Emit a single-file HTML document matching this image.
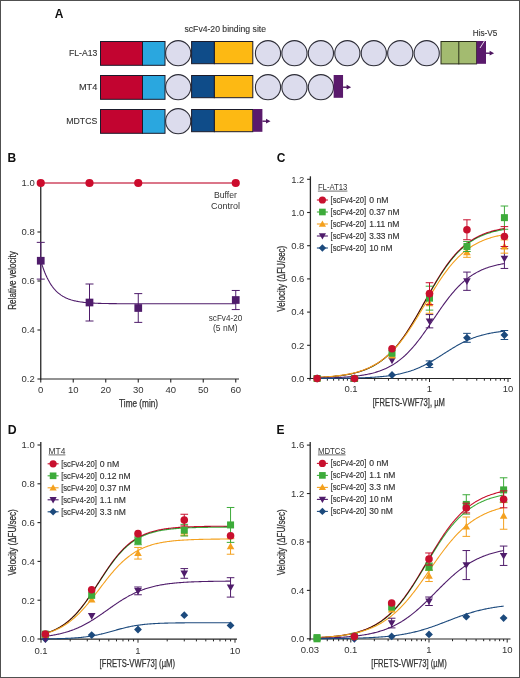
<!DOCTYPE html><html><head><meta charset="utf-8"><style>html,body{margin:0;padding:0;background:#fff;} svg{display:block;} text{font-family:"Liberation Sans",sans-serif;}</style></head><body>
<svg width="520" height="678" viewBox="0 0 520 678">
<rect x="0" y="0" width="520" height="678" fill="#ffffff"/>
<text x="54.8" y="17.7" font-size="12" text-anchor="start" fill="#111" font-weight="bold" >A</text>
<text x="184.5" y="31.5" font-size="8.6" text-anchor="start" fill="#333333" font-weight="normal" textLength="81.5" lengthAdjust="spacingAndGlyphs" stroke="#333333" stroke-width="0.12" >scFv4-20 binding site</text>
<text x="97.3" y="56.400000000000006" font-size="9" text-anchor="end" fill="#333333" font-weight="normal" textLength="28.4" lengthAdjust="spacingAndGlyphs" stroke="#333333" stroke-width="0.12" >FL-A13</text>
<rect x="100.5" y="41.5" width="42" height="23.799999999999997" fill="#c20430" stroke="#1b1b2b" stroke-width="1"/>
<rect x="142.5" y="41.5" width="22.5" height="23.799999999999997" fill="#2aa7df" stroke="#1b1b2b" stroke-width="1"/>
<circle cx="178.2" cy="53.2" r="12.6" fill="#dcdced" stroke="#2e2e38" stroke-width="1.1"/>
<rect x="191.6" y="41.5" width="22.8" height="22.2" fill="#0f4c89" stroke="#1b1b2b" stroke-width="1"/>
<rect x="214.4" y="41.5" width="38.4" height="22.2" fill="#fdb913" stroke="#1b1b2b" stroke-width="1"/>
<circle cx="268.00" cy="53.2" r="12.6" fill="#dcdced" stroke="#2e2e38" stroke-width="1.1"/>
<circle cx="294.45" cy="53.2" r="12.6" fill="#dcdced" stroke="#2e2e38" stroke-width="1.1"/>
<circle cx="320.90" cy="53.2" r="12.6" fill="#dcdced" stroke="#2e2e38" stroke-width="1.1"/>
<circle cx="347.35" cy="53.2" r="12.6" fill="#dcdced" stroke="#2e2e38" stroke-width="1.1"/>
<circle cx="373.80" cy="53.2" r="12.6" fill="#dcdced" stroke="#2e2e38" stroke-width="1.1"/>
<circle cx="400.25" cy="53.2" r="12.6" fill="#dcdced" stroke="#2e2e38" stroke-width="1.1"/>
<circle cx="426.70" cy="53.2" r="12.6" fill="#dcdced" stroke="#2e2e38" stroke-width="1.1"/>
<rect x="441" y="41.5" width="35.6" height="22.4" fill="#a3bb70" stroke="#2a2f1a" stroke-width="1"/>
<line x1="458.80" y1="41.50" x2="458.80" y2="64.40" stroke="#2a2f1a" stroke-width="1"/>
<rect x="476.6" y="41" width="9.4" height="22.799999999999997" fill="#5a1a6c"/>
<line x1="486.00" y1="53.20" x2="490.60" y2="53.20" stroke="#4e1660" stroke-width="1.4"/>
<path d="M494.10,53.20 L489.60,50.80 L489.60,55.60Z" fill="#4e1660"/>
<text x="97.3" y="90.4" font-size="9" text-anchor="end" fill="#333333" font-weight="normal" textLength="18.4" lengthAdjust="spacingAndGlyphs" stroke="#333333" stroke-width="0.12" >MT4</text>
<rect x="100.5" y="75.5" width="42" height="23.799999999999997" fill="#c20430" stroke="#1b1b2b" stroke-width="1"/>
<rect x="142.5" y="75.5" width="22.5" height="23.799999999999997" fill="#2aa7df" stroke="#1b1b2b" stroke-width="1"/>
<circle cx="178.2" cy="87.2" r="12.6" fill="#dcdced" stroke="#2e2e38" stroke-width="1.1"/>
<rect x="191.6" y="75.5" width="22.8" height="22.2" fill="#0f4c89" stroke="#1b1b2b" stroke-width="1"/>
<rect x="214.4" y="75.5" width="38.4" height="22.2" fill="#fdb913" stroke="#1b1b2b" stroke-width="1"/>
<circle cx="268.00" cy="87.2" r="12.6" fill="#dcdced" stroke="#2e2e38" stroke-width="1.1"/>
<circle cx="294.45" cy="87.2" r="12.6" fill="#dcdced" stroke="#2e2e38" stroke-width="1.1"/>
<circle cx="320.90" cy="87.2" r="12.6" fill="#dcdced" stroke="#2e2e38" stroke-width="1.1"/>
<rect x="333.65" y="75" width="9.4" height="22.799999999999997" fill="#5a1a6c"/>
<line x1="343.05" y1="87.20" x2="347.65" y2="87.20" stroke="#4e1660" stroke-width="1.4"/>
<path d="M351.15,87.20 L346.65,84.80 L346.65,89.60Z" fill="#4e1660"/>
<text x="97.3" y="124.4" font-size="9" text-anchor="end" fill="#333333" font-weight="normal" textLength="31.0" lengthAdjust="spacingAndGlyphs" stroke="#333333" stroke-width="0.12" >MDTCS</text>
<rect x="100.5" y="109.5" width="42" height="23.799999999999997" fill="#c20430" stroke="#1b1b2b" stroke-width="1"/>
<rect x="142.5" y="109.5" width="22.5" height="23.799999999999997" fill="#2aa7df" stroke="#1b1b2b" stroke-width="1"/>
<circle cx="178.2" cy="121.2" r="12.6" fill="#dcdced" stroke="#2e2e38" stroke-width="1.1"/>
<rect x="191.6" y="109.5" width="22.8" height="22.2" fill="#0f4c89" stroke="#1b1b2b" stroke-width="1"/>
<rect x="214.4" y="109.5" width="38.4" height="22.2" fill="#fdb913" stroke="#1b1b2b" stroke-width="1"/>
<rect x="253" y="109" width="9.4" height="22.799999999999997" fill="#5a1a6c"/>
<line x1="262.40" y1="121.20" x2="267.00" y2="121.20" stroke="#4e1660" stroke-width="1.4"/>
<path d="M270.50,121.20 L266.00,118.80 L266.00,123.60Z" fill="#4e1660"/>
<text x="472.7" y="35.7" font-size="8.6" text-anchor="start" fill="#333333" font-weight="normal" textLength="24.7" lengthAdjust="spacingAndGlyphs" stroke="#333333" stroke-width="0.12" >His-V5</text>
<line x1="486.00" y1="38.50" x2="480.00" y2="48.00" stroke="#f4eef6" stroke-width="0.9"/>
<text x="7.5" y="162.2" font-size="12" text-anchor="start" fill="#111" font-weight="bold" >B</text>
<line x1="40.75" y1="183.00" x2="40.75" y2="379.60" stroke="#262626" stroke-width="1.3"/>
<line x1="37.45" y1="183.00" x2="40.75" y2="183.00" stroke="#262626" stroke-width="1.1"/>
<text x="34.75" y="186.3" font-size="9.5" text-anchor="end" fill="#333333" font-weight="normal" >1.0</text>
<line x1="37.45" y1="232.00" x2="40.75" y2="232.00" stroke="#262626" stroke-width="1.1"/>
<text x="34.75" y="235.3" font-size="9.5" text-anchor="end" fill="#333333" font-weight="normal" >0.8</text>
<line x1="37.45" y1="281.00" x2="40.75" y2="281.00" stroke="#262626" stroke-width="1.1"/>
<text x="34.75" y="284.3" font-size="9.5" text-anchor="end" fill="#333333" font-weight="normal" >0.6</text>
<line x1="37.45" y1="330.00" x2="40.75" y2="330.00" stroke="#262626" stroke-width="1.1"/>
<text x="34.75" y="333.3" font-size="9.5" text-anchor="end" fill="#333333" font-weight="normal" >0.4</text>
<line x1="37.45" y1="379.00" x2="40.75" y2="379.00" stroke="#262626" stroke-width="1.1"/>
<text x="34.75" y="382.3" font-size="9.5" text-anchor="end" fill="#333333" font-weight="normal" >0.2</text>
<line x1="40.10" y1="379.00" x2="239.00" y2="379.00" stroke="#262626" stroke-width="1.2"/>
<line x1="40.75" y1="379.00" x2="40.75" y2="382.50" stroke="#262626" stroke-width="1.1"/>
<text x="40.75" y="392.6" font-size="9.5" text-anchor="middle" fill="#333333" font-weight="normal" >0</text>
<line x1="73.25" y1="379.00" x2="73.25" y2="382.50" stroke="#262626" stroke-width="1.1"/>
<text x="73.25" y="392.6" font-size="9.5" text-anchor="middle" fill="#333333" font-weight="normal" >10</text>
<line x1="105.75" y1="379.00" x2="105.75" y2="382.50" stroke="#262626" stroke-width="1.1"/>
<text x="105.75" y="392.6" font-size="9.5" text-anchor="middle" fill="#333333" font-weight="normal" >20</text>
<line x1="138.25" y1="379.00" x2="138.25" y2="382.50" stroke="#262626" stroke-width="1.1"/>
<text x="138.25" y="392.6" font-size="9.5" text-anchor="middle" fill="#333333" font-weight="normal" >30</text>
<line x1="170.75" y1="379.00" x2="170.75" y2="382.50" stroke="#262626" stroke-width="1.1"/>
<text x="170.75" y="392.6" font-size="9.5" text-anchor="middle" fill="#333333" font-weight="normal" >40</text>
<line x1="203.25" y1="379.00" x2="203.25" y2="382.50" stroke="#262626" stroke-width="1.1"/>
<text x="203.25" y="392.6" font-size="9.5" text-anchor="middle" fill="#333333" font-weight="normal" >50</text>
<line x1="235.75" y1="379.00" x2="235.75" y2="382.50" stroke="#262626" stroke-width="1.1"/>
<text x="235.75" y="392.6" font-size="9.5" text-anchor="middle" fill="#333333" font-weight="normal" >60</text>
<text x="138.6" y="406.5" font-size="10" text-anchor="middle" fill="#333333" font-weight="normal" textLength="39" lengthAdjust="spacingAndGlyphs" stroke="#333333" stroke-width="0.25" >Time (min)</text>
<text x="0" y="0" font-size="10" text-anchor="middle" fill="#333333" textLength="58.5" lengthAdjust="spacingAndGlyphs" stroke="#333333" stroke-width="0.25" transform="translate(16.2,280.5) rotate(-90)">Relative velocity</text>
<line x1="40.75" y1="183.00" x2="235.75" y2="183.00" stroke="#cf4862" stroke-width="1.3"/>
<circle cx="40.75" cy="183.00" r="4.10" fill="#cc0b2c"/>
<circle cx="89.50" cy="183.00" r="4.10" fill="#cc0b2c"/>
<circle cx="138.25" cy="183.00" r="4.10" fill="#cc0b2c"/>
<circle cx="235.75" cy="183.00" r="4.10" fill="#cc0b2c"/>
<polyline points="40.75,260.74 41.56,263.41 42.38,265.92 43.19,268.27 44.00,270.47 44.81,272.54 45.62,274.48 46.44,276.30 47.25,278.01 48.06,279.61 48.88,281.11 49.69,282.52 50.50,283.84 51.31,285.08 52.12,286.24 52.94,287.33 53.75,288.35 54.56,289.31 55.38,290.21 56.19,291.05 57.00,291.84 57.81,292.58 58.62,293.28 59.44,293.93 60.25,294.54 61.06,295.12 61.88,295.65 62.69,296.16 63.50,296.63 64.31,297.08 65.12,297.49 65.94,297.88 66.75,298.25 67.56,298.59 68.38,298.92 69.19,299.22 70.00,299.50 70.81,299.77 71.62,300.02 72.44,300.25 73.25,300.47 74.06,300.68 74.88,300.87 75.69,301.05 76.50,301.22 77.31,301.38 78.12,301.53 78.94,301.67 79.75,301.80 80.56,301.92 81.38,302.04 82.19,302.15 83.00,302.25 83.81,302.34 84.62,302.43 85.44,302.52 86.25,302.60 87.06,302.67 87.88,302.74 88.69,302.80 89.50,302.87 90.31,302.92 91.12,302.98 91.94,303.03 92.75,303.07 93.56,303.12 94.38,303.16 95.19,303.20 96.00,303.23 96.81,303.27 97.62,303.30 98.44,303.33 99.25,303.36 100.06,303.39 100.88,303.41 101.69,303.43 102.50,303.46 103.31,303.48 104.12,303.49 104.94,303.51 105.75,303.53 106.56,303.55 107.38,303.56 108.19,303.57 109.00,303.59 109.81,303.60 110.62,303.61 111.44,303.62 112.25,303.63 113.06,303.64 113.88,303.65 114.69,303.66 115.50,303.67 116.31,303.67 117.12,303.68 117.94,303.69 118.75,303.69 119.56,303.70 120.38,303.70 121.19,303.71 122.00,303.71 122.81,303.72 123.62,303.72 124.44,303.73 125.25,303.73 126.06,303.73 126.88,303.74 127.69,303.74 128.50,303.74 129.31,303.75 130.12,303.75 130.94,303.75 131.75,303.75 132.56,303.75 133.38,303.76 134.19,303.76 135.00,303.76 135.81,303.76 136.62,303.76 137.44,303.76 138.25,303.77 139.06,303.77 139.88,303.77 140.69,303.77 141.50,303.77 142.31,303.77 143.12,303.77 143.94,303.77 144.75,303.77 145.56,303.77 146.38,303.77 147.19,303.78 148.00,303.78 148.81,303.78 149.62,303.78 150.44,303.78 151.25,303.78 152.06,303.78 152.88,303.78 153.69,303.78 154.50,303.78 155.31,303.78 156.12,303.78 156.94,303.78 157.75,303.78 158.56,303.78 159.38,303.78 160.19,303.78 161.00,303.78 161.81,303.78 162.62,303.78 163.44,303.78 164.25,303.78 165.06,303.78 165.88,303.78 166.69,303.78 167.50,303.78 168.31,303.78 169.12,303.78 169.94,303.78 170.75,303.78 171.56,303.78 172.38,303.78 173.19,303.78 174.00,303.78 174.81,303.78 175.62,303.78 176.44,303.78 177.25,303.78 178.06,303.78 178.88,303.78 179.69,303.78 180.50,303.78 181.31,303.78 182.12,303.78 182.94,303.78 183.75,303.78 184.56,303.78 185.38,303.78 186.19,303.78 187.00,303.78 187.81,303.78 188.62,303.78 189.44,303.78 190.25,303.78 191.06,303.78 191.88,303.78 192.69,303.78 193.50,303.78 194.31,303.78 195.12,303.78 195.94,303.78 196.75,303.78 197.56,303.78 198.38,303.78 199.19,303.78 200.00,303.78 200.81,303.78 201.62,303.78 202.44,303.78 203.25,303.78 204.06,303.78 204.88,303.78 205.69,303.78 206.50,303.78 207.31,303.78 208.12,303.78 208.94,303.78 209.75,303.78 210.56,303.78 211.38,303.78 212.19,303.78 213.00,303.78 213.81,303.78 214.62,303.78 215.44,303.78 216.25,303.78 217.06,303.78 217.88,303.78 218.69,303.78 219.50,303.78 220.31,303.78 221.12,303.78 221.94,303.78 222.75,303.78 223.56,303.78 224.38,303.78 225.19,303.78 226.00,303.78 226.81,303.78 227.62,303.78 228.44,303.78 229.25,303.78 230.06,303.78 230.88,303.78 231.69,303.78 232.50,303.78 233.31,303.78 234.12,303.78 234.94,303.78 235.75,303.78" fill="none" stroke="#4f1c6b" stroke-width="1.1"/>
<line x1="40.75" y1="242.36" x2="40.75" y2="279.11" stroke="#4f1c6b" stroke-width="1"/>
<line x1="36.75" y1="242.36" x2="44.75" y2="242.36" stroke="#4f1c6b" stroke-width="1"/>
<line x1="36.75" y1="279.11" x2="44.75" y2="279.11" stroke="#4f1c6b" stroke-width="1"/>
<rect x="36.90" y="256.89" width="7.70" height="7.70" fill="#4f1c6b"/>
<line x1="89.50" y1="284.01" x2="89.50" y2="321.01" stroke="#4f1c6b" stroke-width="1"/>
<line x1="85.50" y1="284.01" x2="93.50" y2="284.01" stroke="#4f1c6b" stroke-width="1"/>
<line x1="85.50" y1="321.01" x2="93.50" y2="321.01" stroke="#4f1c6b" stroke-width="1"/>
<rect x="85.65" y="298.66" width="7.70" height="7.70" fill="#4f1c6b"/>
<line x1="138.25" y1="293.62" x2="138.25" y2="322.38" stroke="#4f1c6b" stroke-width="1"/>
<line x1="134.25" y1="293.62" x2="142.25" y2="293.62" stroke="#4f1c6b" stroke-width="1"/>
<line x1="134.25" y1="322.38" x2="142.25" y2="322.38" stroke="#4f1c6b" stroke-width="1"/>
<rect x="134.40" y="304.15" width="7.70" height="7.70" fill="#4f1c6b"/>
<line x1="235.75" y1="290.46" x2="235.75" y2="309.57" stroke="#4f1c6b" stroke-width="1"/>
<line x1="231.75" y1="290.46" x2="239.75" y2="290.46" stroke="#4f1c6b" stroke-width="1"/>
<line x1="231.75" y1="309.57" x2="239.75" y2="309.57" stroke="#4f1c6b" stroke-width="1"/>
<rect x="231.90" y="296.16" width="7.70" height="7.70" fill="#4f1c6b"/>
<text x="225.5" y="197.9" font-size="9" text-anchor="middle" fill="#333333" font-weight="normal" textLength="23" lengthAdjust="spacingAndGlyphs" >Buffer</text>
<text x="225.5" y="208.5" font-size="9" text-anchor="middle" fill="#333333" font-weight="normal" textLength="29" lengthAdjust="spacingAndGlyphs" >Control</text>
<text x="225.5" y="321.3" font-size="8.6" text-anchor="middle" fill="#333333" font-weight="normal" textLength="33.5" lengthAdjust="spacingAndGlyphs" >scFv4-20</text>
<text x="225.3" y="330.5" font-size="8.6" text-anchor="middle" fill="#333333" font-weight="normal" textLength="24.5" lengthAdjust="spacingAndGlyphs" >(5 nM)</text>
<text x="276.8" y="162.2" font-size="12" text-anchor="start" fill="#111" font-weight="bold" >C</text>
<line x1="310.40" y1="176.30" x2="310.40" y2="379.10" stroke="#262626" stroke-width="1.3"/>
<line x1="307.10" y1="378.50" x2="310.40" y2="378.50" stroke="#262626" stroke-width="1.1"/>
<text x="304.4" y="381.8" font-size="9.5" text-anchor="end" fill="#333333" font-weight="normal" >0.0</text>
<line x1="307.10" y1="345.30" x2="310.40" y2="345.30" stroke="#262626" stroke-width="1.1"/>
<text x="304.4" y="348.6" font-size="9.5" text-anchor="end" fill="#333333" font-weight="normal" >0.2</text>
<line x1="307.10" y1="312.10" x2="310.40" y2="312.10" stroke="#262626" stroke-width="1.1"/>
<text x="304.4" y="315.40000000000003" font-size="9.5" text-anchor="end" fill="#333333" font-weight="normal" >0.4</text>
<line x1="307.10" y1="278.90" x2="310.40" y2="278.90" stroke="#262626" stroke-width="1.1"/>
<text x="304.4" y="282.2" font-size="9.5" text-anchor="end" fill="#333333" font-weight="normal" >0.6</text>
<line x1="307.10" y1="245.70" x2="310.40" y2="245.70" stroke="#262626" stroke-width="1.1"/>
<text x="304.4" y="249.0" font-size="9.5" text-anchor="end" fill="#333333" font-weight="normal" >0.8</text>
<line x1="307.10" y1="212.50" x2="310.40" y2="212.50" stroke="#262626" stroke-width="1.1"/>
<text x="304.4" y="215.8" font-size="9.5" text-anchor="end" fill="#333333" font-weight="normal" >1.0</text>
<line x1="307.10" y1="179.30" x2="310.40" y2="179.30" stroke="#262626" stroke-width="1.1"/>
<text x="304.4" y="182.60000000000002" font-size="9.5" text-anchor="end" fill="#333333" font-weight="normal" >1.2</text>
<line x1="309.80" y1="378.50" x2="511.00" y2="378.50" stroke="#262626" stroke-width="1.2"/>
<line x1="309.95" y1="378.50" x2="309.95" y2="380.70" stroke="#262626" stroke-width="1.0"/>
<line x1="319.76" y1="378.50" x2="319.76" y2="380.70" stroke="#262626" stroke-width="1.0"/>
<line x1="327.37" y1="378.50" x2="327.37" y2="380.70" stroke="#262626" stroke-width="1.0"/>
<line x1="333.58" y1="378.50" x2="333.58" y2="380.70" stroke="#262626" stroke-width="1.0"/>
<line x1="338.84" y1="378.50" x2="338.84" y2="380.70" stroke="#262626" stroke-width="1.0"/>
<line x1="343.39" y1="378.50" x2="343.39" y2="380.70" stroke="#262626" stroke-width="1.0"/>
<line x1="347.41" y1="378.50" x2="347.41" y2="380.70" stroke="#262626" stroke-width="1.0"/>
<line x1="351.00" y1="378.50" x2="351.00" y2="382.00" stroke="#262626" stroke-width="1.0"/>
<line x1="374.63" y1="378.50" x2="374.63" y2="380.70" stroke="#262626" stroke-width="1.0"/>
<line x1="388.45" y1="378.50" x2="388.45" y2="380.70" stroke="#262626" stroke-width="1.0"/>
<line x1="398.26" y1="378.50" x2="398.26" y2="380.70" stroke="#262626" stroke-width="1.0"/>
<line x1="405.87" y1="378.50" x2="405.87" y2="380.70" stroke="#262626" stroke-width="1.0"/>
<line x1="412.08" y1="378.50" x2="412.08" y2="380.70" stroke="#262626" stroke-width="1.0"/>
<line x1="417.34" y1="378.50" x2="417.34" y2="380.70" stroke="#262626" stroke-width="1.0"/>
<line x1="421.89" y1="378.50" x2="421.89" y2="380.70" stroke="#262626" stroke-width="1.0"/>
<line x1="425.91" y1="378.50" x2="425.91" y2="380.70" stroke="#262626" stroke-width="1.0"/>
<line x1="429.50" y1="378.50" x2="429.50" y2="382.00" stroke="#262626" stroke-width="1.0"/>
<line x1="453.13" y1="378.50" x2="453.13" y2="380.70" stroke="#262626" stroke-width="1.0"/>
<line x1="466.95" y1="378.50" x2="466.95" y2="380.70" stroke="#262626" stroke-width="1.0"/>
<line x1="476.76" y1="378.50" x2="476.76" y2="380.70" stroke="#262626" stroke-width="1.0"/>
<line x1="484.37" y1="378.50" x2="484.37" y2="380.70" stroke="#262626" stroke-width="1.0"/>
<line x1="490.58" y1="378.50" x2="490.58" y2="380.70" stroke="#262626" stroke-width="1.0"/>
<line x1="495.84" y1="378.50" x2="495.84" y2="380.70" stroke="#262626" stroke-width="1.0"/>
<line x1="500.39" y1="378.50" x2="500.39" y2="380.70" stroke="#262626" stroke-width="1.0"/>
<line x1="504.41" y1="378.50" x2="504.41" y2="380.70" stroke="#262626" stroke-width="1.0"/>
<line x1="508.00" y1="378.50" x2="508.00" y2="382.00" stroke="#262626" stroke-width="1.0"/>
<text x="351.0" y="392.0" font-size="9.5" text-anchor="middle" fill="#333333" font-weight="normal" >0.1</text>
<text x="429.5" y="392.0" font-size="9.5" text-anchor="middle" fill="#333333" font-weight="normal" >1</text>
<text x="508.0" y="392.0" font-size="9.5" text-anchor="middle" fill="#333333" font-weight="normal" >10</text>
<text x="408.8" y="406.4" font-size="10" text-anchor="middle" fill="#333333" font-weight="normal" textLength="72.2" lengthAdjust="spacingAndGlyphs" stroke="#333333" stroke-width="0.25" >[FRETS-VWF73], µM</text>
<text x="0" y="0" font-size="10" text-anchor="middle" fill="#333333" textLength="66" lengthAdjust="spacingAndGlyphs" stroke="#333333" stroke-width="0.25" transform="translate(285.4,278.7) rotate(-90)">Velocity (ΔFU/sec)</text>
<polyline points="317.10,377.52 318.04,377.48 318.98,377.43 319.91,377.38 320.85,377.33 321.79,377.28 322.72,377.23 323.66,377.17 324.60,377.11 325.53,377.05 326.47,376.98 327.41,376.92 328.34,376.84 329.28,376.77 330.22,376.69 331.15,376.61 332.09,376.53 333.02,376.44 333.96,376.35 334.90,376.26 335.83,376.16 336.77,376.05 337.71,375.95 338.64,375.83 339.58,375.72 340.52,375.59 341.45,375.46 342.39,375.33 343.33,375.19 344.26,375.05 345.20,374.90 346.14,374.74 347.07,374.57 348.01,374.40 348.95,374.22 349.88,374.04 350.82,373.84 351.76,373.64 352.69,373.43 353.63,373.21 354.56,372.98 355.50,372.74 356.44,372.49 357.37,372.23 358.31,371.96 359.25,371.68 360.18,371.39 361.12,371.08 362.06,370.77 362.99,370.44 363.93,370.10 364.87,369.74 365.80,369.37 366.74,368.98 367.68,368.58 368.61,368.17 369.55,367.74 370.49,367.29 371.42,366.82 372.36,366.34 373.30,365.84 374.23,365.32 375.17,364.78 376.10,364.22 377.04,363.64 377.98,363.04 378.91,362.42 379.85,361.77 380.79,361.11 381.72,360.42 382.66,359.71 383.60,358.97 384.53,358.21 385.47,357.42 386.41,356.61 387.34,355.77 388.28,354.91 389.22,354.01 390.15,353.10 391.09,352.15 392.03,351.18 392.96,350.18 393.90,349.15 394.84,348.09 395.77,347.00 396.71,345.89 397.64,344.75 398.58,343.57 399.52,342.37 400.45,341.15 401.39,339.89 402.33,338.61 403.26,337.29 404.20,335.95 405.14,334.59 406.07,333.20 407.01,331.78 407.95,330.34 408.88,328.88 409.82,327.39 410.76,325.88 411.69,324.35 412.63,322.80 413.57,321.23 414.50,319.64 415.44,318.04 416.38,316.42 417.31,314.79 418.25,313.15 419.18,311.49 420.12,309.83 421.06,308.15 421.99,306.48 422.93,304.79 423.87,303.11 424.80,301.42 425.74,299.73 426.68,298.05 427.61,296.37 428.55,294.69 429.49,293.02 430.42,291.36 431.36,289.71 432.30,288.07 433.23,286.44 434.17,284.83 435.11,283.23 436.04,281.65 436.98,280.09 437.92,278.54 438.85,277.02 439.79,275.52 440.72,274.04 441.66,272.58 442.60,271.15 443.53,269.75 444.47,268.36 445.41,267.01 446.34,265.68 447.28,264.38 448.22,263.10 449.15,261.86 450.09,260.64 451.03,259.45 451.96,258.29 452.90,257.15 453.84,256.05 454.77,254.97 455.71,253.93 456.65,252.91 457.58,251.92 458.52,250.95 459.46,250.02 460.39,249.11 461.33,248.23 462.26,247.37 463.20,246.55 464.14,245.74 465.07,244.96 466.01,244.21 466.95,243.48 467.88,242.78 468.82,242.10 469.76,241.44 470.69,240.80 471.63,240.19 472.57,239.60 473.50,239.03 474.44,238.47 475.38,237.94 476.31,237.43 477.25,236.93 478.19,236.46 479.12,236.00 480.06,235.55 481.00,235.13 481.93,234.72 482.87,234.32 483.80,233.95 484.74,233.58 485.68,233.23 486.61,232.89 487.55,232.57 488.49,232.26 489.42,231.96 490.36,231.67 491.30,231.39 492.23,231.12 493.17,230.87 494.11,230.62 495.04,230.39 495.98,230.16 496.92,229.95 497.85,229.74 498.79,229.54 499.73,229.35 500.66,229.16 501.60,228.99 502.53,228.82 503.47,228.65 504.41,228.50" fill="none" stroke="#c8102e" stroke-width="1.1" style="mix-blend-mode:multiply"/>
<polyline points="317.10,377.53 318.04,377.48 318.98,377.44 319.91,377.39 320.85,377.34 321.79,377.29 322.72,377.23 323.66,377.18 324.60,377.12 325.53,377.06 326.47,376.99 327.41,376.93 328.34,376.86 329.28,376.78 330.22,376.71 331.15,376.63 332.09,376.54 333.02,376.46 333.96,376.37 334.90,376.27 335.83,376.17 336.77,376.07 337.71,375.96 338.64,375.85 339.58,375.73 340.52,375.61 341.45,375.48 342.39,375.35 343.33,375.21 344.26,375.07 345.20,374.92 346.14,374.76 347.07,374.60 348.01,374.43 348.95,374.25 349.88,374.06 350.82,373.87 351.76,373.67 352.69,373.46 353.63,373.24 354.56,373.01 355.50,372.78 356.44,372.53 357.37,372.27 358.31,372.00 359.25,371.72 360.18,371.43 361.12,371.13 362.06,370.82 362.99,370.49 363.93,370.15 364.87,369.80 365.80,369.43 366.74,369.05 367.68,368.65 368.61,368.24 369.55,367.81 370.49,367.36 371.42,366.90 372.36,366.42 373.30,365.92 374.23,365.40 375.17,364.87 376.10,364.31 377.04,363.74 377.98,363.14 378.91,362.52 379.85,361.88 380.79,361.22 381.72,360.54 382.66,359.83 383.60,359.10 384.53,358.34 385.47,357.56 386.41,356.75 387.34,355.92 388.28,355.06 389.22,354.17 390.15,353.26 391.09,352.32 392.03,351.36 392.96,350.36 393.90,349.34 394.84,348.29 395.77,347.21 396.71,346.10 397.64,344.96 398.58,343.80 399.52,342.61 400.45,341.39 401.39,340.14 402.33,338.86 403.26,337.56 404.20,336.23 405.14,334.87 406.07,333.49 407.01,332.09 407.95,330.65 408.88,329.20 409.82,327.72 410.76,326.22 411.69,324.70 412.63,323.16 413.57,321.60 414.50,320.02 415.44,318.43 416.38,316.82 417.31,315.20 418.25,313.57 419.18,311.92 420.12,310.27 421.06,308.61 421.99,306.94 422.93,305.27 423.87,303.60 424.80,301.92 425.74,300.24 426.68,298.57 427.61,296.90 428.55,295.23 429.49,293.58 430.42,291.93 431.36,290.29 432.30,288.66 433.23,287.04 434.17,285.44 435.11,283.85 436.04,282.28 436.98,280.73 437.92,279.19 438.85,277.68 439.79,276.19 440.72,274.72 441.66,273.27 442.60,271.85 443.53,270.45 444.47,269.08 445.41,267.73 446.34,266.41 447.28,265.12 448.22,263.85 449.15,262.61 450.09,261.40 451.03,260.22 451.96,259.07 452.90,257.94 453.84,256.84 454.77,255.78 455.71,254.74 456.65,253.72 457.58,252.74 458.52,251.78 459.46,250.85 460.39,249.95 461.33,249.07 462.26,248.22 463.20,247.40 464.14,246.60 465.07,245.83 466.01,245.08 466.95,244.36 467.88,243.66 468.82,242.98 469.76,242.33 470.69,241.70 471.63,241.09 472.57,240.50 473.50,239.93 474.44,239.38 475.38,238.85 476.31,238.34 477.25,237.85 478.19,237.38 479.12,236.92 480.06,236.48 481.00,236.06 481.93,235.65 482.87,235.26 483.80,234.88 484.74,234.52 485.68,234.17 486.61,233.84 487.55,233.51 488.49,233.20 489.42,232.91 490.36,232.62 491.30,232.34 492.23,232.08 493.17,231.83 494.11,231.58 495.04,231.35 495.98,231.13 496.92,230.91 497.85,230.70 498.79,230.50 499.73,230.31 500.66,230.13 501.60,229.96 502.53,229.79 503.47,229.63 504.41,229.47" fill="none" stroke="#3dab3a" stroke-width="1.1" style="mix-blend-mode:multiply"/>
<polyline points="317.10,377.42 318.04,377.37 318.98,377.32 319.91,377.27 320.85,377.22 321.79,377.16 322.72,377.10 323.66,377.04 324.60,376.98 325.53,376.91 326.47,376.85 327.41,376.77 328.34,376.70 329.28,376.62 330.22,376.54 331.15,376.46 332.09,376.37 333.02,376.28 333.96,376.18 334.90,376.08 335.83,375.98 336.77,375.87 337.71,375.76 338.64,375.64 339.58,375.52 340.52,375.39 341.45,375.26 342.39,375.12 343.33,374.98 344.26,374.83 345.20,374.67 346.14,374.51 347.07,374.34 348.01,374.17 348.95,373.98 349.88,373.79 350.82,373.60 351.76,373.39 352.69,373.17 353.63,372.95 354.56,372.72 355.50,372.48 356.44,372.23 357.37,371.96 358.31,371.69 359.25,371.41 360.18,371.12 361.12,370.81 362.06,370.49 362.99,370.16 363.93,369.82 364.87,369.47 365.80,369.10 366.74,368.72 367.68,368.32 368.61,367.91 369.55,367.48 370.49,367.04 371.42,366.58 372.36,366.10 373.30,365.61 374.23,365.10 375.17,364.57 376.10,364.02 377.04,363.45 377.98,362.87 378.91,362.26 379.85,361.63 380.79,360.99 381.72,360.32 382.66,359.63 383.60,358.91 384.53,358.18 385.47,357.42 386.41,356.63 387.34,355.83 388.28,355.00 389.22,354.14 390.15,353.26 391.09,352.35 392.03,351.42 392.96,350.47 393.90,349.49 394.84,348.48 395.77,347.45 396.71,346.39 397.64,345.30 398.58,344.19 399.52,343.05 400.45,341.89 401.39,340.70 402.33,339.49 403.26,338.25 404.20,336.99 405.14,335.71 406.07,334.40 407.01,333.07 407.95,331.72 408.88,330.34 409.82,328.95 410.76,327.53 411.69,326.10 412.63,324.65 413.57,323.18 414.50,321.69 415.44,320.20 416.38,318.68 417.31,317.16 418.25,315.62 419.18,314.08 420.12,312.52 421.06,310.96 421.99,309.40 422.93,307.82 423.87,306.25 424.80,304.68 425.74,303.10 426.68,301.53 427.61,299.95 428.55,298.39 429.49,296.83 430.42,295.27 431.36,293.73 432.30,292.19 433.23,290.66 434.17,289.15 435.11,287.65 436.04,286.17 436.98,284.70 437.92,283.24 438.85,281.81 439.79,280.39 440.72,279.00 441.66,277.62 442.60,276.27 443.53,274.94 444.47,273.63 445.41,272.34 446.34,271.08 447.28,269.84 448.22,268.63 449.15,267.44 450.09,266.27 451.03,265.13 451.96,264.02 452.90,262.94 453.84,261.87 454.77,260.84 455.71,259.83 456.65,258.85 457.58,257.89 458.52,256.96 459.46,256.05 460.39,255.17 461.33,254.31 462.26,253.48 463.20,252.67 464.14,251.89 465.07,251.13 466.01,250.39 466.95,249.67 467.88,248.98 468.82,248.31 469.76,247.66 470.69,247.03 471.63,246.43 472.57,245.84 473.50,245.27 474.44,244.72 475.38,244.19 476.31,243.68 477.25,243.19 478.19,242.71 479.12,242.25 480.06,241.80 481.00,241.38 481.93,240.96 482.87,240.57 483.80,240.18 484.74,239.81 485.68,239.46 486.61,239.11 487.55,238.78 488.49,238.47 489.42,238.16 490.36,237.87 491.30,237.58 492.23,237.31 493.17,237.05 494.11,236.80 495.04,236.56 495.98,236.32 496.92,236.10 497.85,235.88 498.79,235.68 499.73,235.48 500.66,235.29 501.60,235.10 502.53,234.93 503.47,234.76 504.41,234.59" fill="none" stroke="#f4a11f" stroke-width="1.1"/>
<polyline points="317.10,378.15 318.04,378.13 318.98,378.12 319.91,378.10 320.85,378.08 321.79,378.06 322.72,378.04 323.66,378.02 324.60,377.99 325.53,377.97 326.47,377.94 327.41,377.92 328.34,377.89 329.28,377.86 330.22,377.83 331.15,377.80 332.09,377.76 333.02,377.73 333.96,377.69 334.90,377.65 335.83,377.61 336.77,377.57 337.71,377.53 338.64,377.48 339.58,377.43 340.52,377.38 341.45,377.33 342.39,377.27 343.33,377.21 344.26,377.15 345.20,377.09 346.14,377.02 347.07,376.95 348.01,376.88 348.95,376.80 349.88,376.72 350.82,376.63 351.76,376.55 352.69,376.45 353.63,376.36 354.56,376.26 355.50,376.15 356.44,376.04 357.37,375.93 358.31,375.81 359.25,375.68 360.18,375.55 361.12,375.41 362.06,375.26 362.99,375.11 363.93,374.96 364.87,374.79 365.80,374.62 366.74,374.44 367.68,374.25 368.61,374.05 369.55,373.85 370.49,373.64 371.42,373.41 372.36,373.18 373.30,372.94 374.23,372.68 375.17,372.42 376.10,372.14 377.04,371.85 377.98,371.55 378.91,371.24 379.85,370.91 380.79,370.57 381.72,370.22 382.66,369.85 383.60,369.47 384.53,369.07 385.47,368.65 386.41,368.22 387.34,367.77 388.28,367.31 389.22,366.82 390.15,366.32 391.09,365.80 392.03,365.25 392.96,364.69 393.90,364.11 394.84,363.51 395.77,362.88 396.71,362.24 397.64,361.57 398.58,360.88 399.52,360.16 400.45,359.42 401.39,358.66 402.33,357.87 403.26,357.06 404.20,356.23 405.14,355.37 406.07,354.48 407.01,353.57 407.95,352.64 408.88,351.68 409.82,350.69 410.76,349.69 411.69,348.65 412.63,347.59 413.57,346.51 414.50,345.40 415.44,344.28 416.38,343.12 417.31,341.95 418.25,340.76 419.18,339.54 420.12,338.31 421.06,337.06 421.99,335.78 422.93,334.50 423.87,333.19 424.80,331.88 425.74,330.55 426.68,329.21 427.61,327.85 428.55,326.49 429.49,325.12 430.42,323.75 431.36,322.37 432.30,320.98 433.23,319.60 434.17,318.21 435.11,316.83 436.04,315.45 436.98,314.07 437.92,312.70 438.85,311.34 439.79,309.98 440.72,308.64 441.66,307.30 442.60,305.98 443.53,304.67 444.47,303.38 445.41,302.11 446.34,300.85 447.28,299.61 448.22,298.39 449.15,297.19 450.09,296.01 451.03,294.85 451.96,293.72 452.90,292.60 453.84,291.52 454.77,290.45 455.71,289.41 456.65,288.39 457.58,287.40 458.52,286.44 459.46,285.49 460.39,284.58 461.33,283.68 462.26,282.82 463.20,281.98 464.14,281.16 465.07,280.37 466.01,279.60 466.95,278.85 467.88,278.13 468.82,277.43 469.76,276.76 470.69,276.10 471.63,275.47 472.57,274.86 473.50,274.28 474.44,273.71 475.38,273.16 476.31,272.63 477.25,272.13 478.19,271.64 479.12,271.17 480.06,270.71 481.00,270.28 481.93,269.86 482.87,269.45 483.80,269.06 484.74,268.69 485.68,268.33 486.61,267.99 487.55,267.66 488.49,267.34 489.42,267.04 490.36,266.75 491.30,266.47 492.23,266.20 493.17,265.94 494.11,265.70 495.04,265.46 495.98,265.23 496.92,265.02 497.85,264.81 498.79,264.61 499.73,264.42 500.66,264.24 501.60,264.06 502.53,263.90 503.47,263.74 504.41,263.59" fill="none" stroke="#4f1c6b" stroke-width="1.1"/>
<polyline points="317.10,378.43 318.04,378.43 318.98,378.42 319.91,378.42 320.85,378.41 321.79,378.41 322.72,378.41 323.66,378.40 324.60,378.40 325.53,378.39 326.47,378.39 327.41,378.38 328.34,378.37 329.28,378.37 330.22,378.36 331.15,378.35 332.09,378.35 333.02,378.34 333.96,378.33 334.90,378.32 335.83,378.32 336.77,378.31 337.71,378.30 338.64,378.29 339.58,378.28 340.52,378.26 341.45,378.25 342.39,378.24 343.33,378.23 344.26,378.21 345.20,378.20 346.14,378.19 347.07,378.17 348.01,378.15 348.95,378.14 349.88,378.12 350.82,378.10 351.76,378.08 352.69,378.06 353.63,378.04 354.56,378.02 355.50,377.99 356.44,377.97 357.37,377.94 358.31,377.91 359.25,377.88 360.18,377.85 361.12,377.82 362.06,377.79 362.99,377.75 363.93,377.72 364.87,377.68 365.80,377.64 366.74,377.60 367.68,377.55 368.61,377.51 369.55,377.46 370.49,377.41 371.42,377.36 372.36,377.30 373.30,377.24 374.23,377.18 375.17,377.12 376.10,377.05 377.04,376.98 377.98,376.91 378.91,376.83 379.85,376.75 380.79,376.67 381.72,376.58 382.66,376.49 383.60,376.39 384.53,376.29 385.47,376.19 386.41,376.08 387.34,375.97 388.28,375.85 389.22,375.72 390.15,375.59 391.09,375.46 392.03,375.31 392.96,375.17 393.90,375.01 394.84,374.85 395.77,374.68 396.71,374.51 397.64,374.33 398.58,374.14 399.52,373.94 400.45,373.74 401.39,373.53 402.33,373.30 403.26,373.07 404.20,372.84 405.14,372.59 406.07,372.33 407.01,372.06 407.95,371.79 408.88,371.50 409.82,371.21 410.76,370.90 411.69,370.58 412.63,370.25 413.57,369.92 414.50,369.57 415.44,369.21 416.38,368.83 417.31,368.45 418.25,368.06 419.18,367.65 420.12,367.24 421.06,366.81 421.99,366.37 422.93,365.92 423.87,365.46 424.80,364.99 425.74,364.51 426.68,364.02 427.61,363.52 428.55,363.01 429.49,362.49 430.42,361.96 431.36,361.42 432.30,360.88 433.23,360.32 434.17,359.76 435.11,359.20 436.04,358.62 436.98,358.05 437.92,357.46 438.85,356.88 439.79,356.29 440.72,355.69 441.66,355.10 442.60,354.50 443.53,353.90 444.47,353.30 445.41,352.71 446.34,352.11 447.28,351.52 448.22,350.93 449.15,350.34 450.09,349.75 451.03,349.18 451.96,348.60 452.90,348.03 453.84,347.47 454.77,346.92 455.71,346.37 456.65,345.83 457.58,345.30 458.52,344.78 459.46,344.27 460.39,343.77 461.33,343.27 462.26,342.79 463.20,342.32 464.14,341.86 465.07,341.40 466.01,340.96 466.95,340.54 467.88,340.12 468.82,339.71 469.76,339.32 470.69,338.93 471.63,338.56 472.57,338.20 473.50,337.84 474.44,337.50 475.38,337.17 476.31,336.85 477.25,336.55 478.19,336.25 479.12,335.96 480.06,335.68 481.00,335.41 481.93,335.15 482.87,334.91 483.80,334.66 484.74,334.43 485.68,334.21 486.61,334.00 487.55,333.79 488.49,333.59 489.42,333.40 490.36,333.22 491.30,333.04 492.23,332.88 493.17,332.71 494.11,332.56 495.04,332.41 495.98,332.27 496.92,332.13 497.85,332.00 498.79,331.87 499.73,331.75 500.66,331.64 501.60,331.53 502.53,331.42 503.47,331.32 504.41,331.23" fill="none" stroke="#1c4a7d" stroke-width="1.1"/>
<path d="M317.10,374.60 L321.00,378.50 L317.10,382.40 L313.20,378.50Z" fill="#1c4a7d"/>
<path d="M354.56,374.60 L358.46,378.50 L354.56,382.40 L350.66,378.50Z" fill="#1c4a7d"/>
<path d="M392.01,371.11 L395.91,375.01 L392.01,378.91 L388.11,375.01Z" fill="#1c4a7d"/>
<line x1="429.50" y1="360.90" x2="429.50" y2="367.54" stroke="#1c4a7d" stroke-width="1"/>
<line x1="425.70" y1="360.90" x2="433.30" y2="360.90" stroke="#1c4a7d" stroke-width="1"/>
<line x1="425.70" y1="367.54" x2="433.30" y2="367.54" stroke="#1c4a7d" stroke-width="1"/>
<path d="M429.50,360.32 L433.40,364.22 L429.50,368.12 L425.60,364.22Z" fill="#1c4a7d"/>
<line x1="466.95" y1="333.35" x2="466.95" y2="342.31" stroke="#1c4a7d" stroke-width="1"/>
<line x1="463.15" y1="333.35" x2="470.75" y2="333.35" stroke="#1c4a7d" stroke-width="1"/>
<line x1="463.15" y1="342.31" x2="470.75" y2="342.31" stroke="#1c4a7d" stroke-width="1"/>
<path d="M466.95,333.93 L470.85,337.83 L466.95,341.73 L463.05,337.83Z" fill="#1c4a7d"/>
<line x1="504.41" y1="330.53" x2="504.41" y2="339.49" stroke="#1c4a7d" stroke-width="1"/>
<line x1="500.61" y1="330.53" x2="508.21" y2="330.53" stroke="#1c4a7d" stroke-width="1"/>
<line x1="500.61" y1="339.49" x2="508.21" y2="339.49" stroke="#1c4a7d" stroke-width="1"/>
<path d="M504.41,331.11 L508.31,335.01 L504.41,338.91 L500.51,335.01Z" fill="#1c4a7d"/>
<path d="M317.10,382.30 L320.90,375.65 L313.30,375.65Z" fill="#4f1c6b"/>
<path d="M354.56,382.30 L358.36,375.65 L350.76,375.65Z" fill="#4f1c6b"/>
<path d="M392.01,364.21 L395.81,357.56 L388.21,357.56Z" fill="#4f1c6b"/>
<line x1="429.50" y1="314.59" x2="429.50" y2="327.87" stroke="#4f1c6b" stroke-width="1"/>
<line x1="425.70" y1="314.59" x2="433.30" y2="314.59" stroke="#4f1c6b" stroke-width="1"/>
<line x1="425.70" y1="327.87" x2="433.30" y2="327.87" stroke="#4f1c6b" stroke-width="1"/>
<path d="M429.50,325.03 L433.30,318.38 L425.70,318.38Z" fill="#4f1c6b"/>
<line x1="466.95" y1="272.09" x2="466.95" y2="290.35" stroke="#4f1c6b" stroke-width="1"/>
<line x1="463.15" y1="272.09" x2="470.75" y2="272.09" stroke="#4f1c6b" stroke-width="1"/>
<line x1="463.15" y1="290.35" x2="470.75" y2="290.35" stroke="#4f1c6b" stroke-width="1"/>
<path d="M466.95,285.02 L470.75,278.37 L463.15,278.37Z" fill="#4f1c6b"/>
<line x1="504.41" y1="248.52" x2="504.41" y2="268.44" stroke="#4f1c6b" stroke-width="1"/>
<line x1="500.61" y1="248.52" x2="508.21" y2="248.52" stroke="#4f1c6b" stroke-width="1"/>
<line x1="500.61" y1="268.44" x2="508.21" y2="268.44" stroke="#4f1c6b" stroke-width="1"/>
<path d="M504.41,262.28 L508.21,255.63 L500.61,255.63Z" fill="#4f1c6b"/>
<path d="M317.10,374.70 L320.90,381.35 L313.30,381.35Z" fill="#f4a11f"/>
<path d="M354.56,374.70 L358.36,381.35 L350.76,381.35Z" fill="#f4a11f"/>
<path d="M392.01,351.79 L395.81,358.44 L388.21,358.44Z" fill="#f4a11f"/>
<line x1="429.50" y1="293.34" x2="429.50" y2="313.26" stroke="#f4a11f" stroke-width="1"/>
<line x1="425.70" y1="293.34" x2="433.30" y2="293.34" stroke="#f4a11f" stroke-width="1"/>
<line x1="425.70" y1="313.26" x2="433.30" y2="313.26" stroke="#f4a11f" stroke-width="1"/>
<path d="M429.50,299.50 L433.30,306.15 L425.70,306.15Z" fill="#f4a11f"/>
<line x1="466.95" y1="247.36" x2="466.95" y2="257.32" stroke="#f4a11f" stroke-width="1"/>
<line x1="463.15" y1="247.36" x2="470.75" y2="247.36" stroke="#f4a11f" stroke-width="1"/>
<line x1="463.15" y1="257.32" x2="470.75" y2="257.32" stroke="#f4a11f" stroke-width="1"/>
<path d="M466.95,248.54 L470.75,255.19 L463.15,255.19Z" fill="#f4a11f"/>
<line x1="504.41" y1="239.89" x2="504.41" y2="253.17" stroke="#f4a11f" stroke-width="1"/>
<line x1="500.61" y1="239.89" x2="508.21" y2="239.89" stroke="#f4a11f" stroke-width="1"/>
<line x1="500.61" y1="253.17" x2="508.21" y2="253.17" stroke="#f4a11f" stroke-width="1"/>
<path d="M504.41,242.73 L508.21,249.38 L500.61,249.38Z" fill="#f4a11f"/>
<rect x="313.60" y="375.00" width="7.00" height="7.00" fill="#3dab3a"/>
<rect x="351.06" y="375.00" width="7.00" height="7.00" fill="#3dab3a"/>
<rect x="388.51" y="349.77" width="7.00" height="7.00" fill="#3dab3a"/>
<line x1="429.50" y1="286.20" x2="429.50" y2="310.11" stroke="#3dab3a" stroke-width="1"/>
<line x1="425.70" y1="286.20" x2="433.30" y2="286.20" stroke="#3dab3a" stroke-width="1"/>
<line x1="425.70" y1="310.11" x2="433.30" y2="310.11" stroke="#3dab3a" stroke-width="1"/>
<rect x="426.00" y="294.66" width="7.00" height="7.00" fill="#3dab3a"/>
<line x1="466.95" y1="241.55" x2="466.95" y2="251.51" stroke="#3dab3a" stroke-width="1"/>
<line x1="463.15" y1="241.55" x2="470.75" y2="241.55" stroke="#3dab3a" stroke-width="1"/>
<line x1="463.15" y1="251.51" x2="470.75" y2="251.51" stroke="#3dab3a" stroke-width="1"/>
<rect x="463.45" y="243.03" width="7.00" height="7.00" fill="#3dab3a"/>
<line x1="504.41" y1="206.03" x2="504.41" y2="229.27" stroke="#3dab3a" stroke-width="1"/>
<line x1="500.61" y1="206.03" x2="508.21" y2="206.03" stroke="#3dab3a" stroke-width="1"/>
<line x1="500.61" y1="229.27" x2="508.21" y2="229.27" stroke="#3dab3a" stroke-width="1"/>
<rect x="500.91" y="214.15" width="7.00" height="7.00" fill="#3dab3a"/>
<circle cx="317.10" cy="378.50" r="3.80" fill="#c8102e"/>
<circle cx="354.56" cy="378.50" r="3.80" fill="#c8102e"/>
<circle cx="392.01" cy="348.79" r="3.80" fill="#c8102e"/>
<line x1="429.50" y1="282.72" x2="429.50" y2="304.63" stroke="#c8102e" stroke-width="1"/>
<line x1="425.70" y1="282.72" x2="433.30" y2="282.72" stroke="#c8102e" stroke-width="1"/>
<line x1="425.70" y1="304.63" x2="433.30" y2="304.63" stroke="#c8102e" stroke-width="1"/>
<circle cx="429.50" cy="293.67" r="3.80" fill="#c8102e"/>
<line x1="466.95" y1="219.80" x2="466.95" y2="239.72" stroke="#c8102e" stroke-width="1"/>
<line x1="463.15" y1="219.80" x2="470.75" y2="219.80" stroke="#c8102e" stroke-width="1"/>
<line x1="463.15" y1="239.72" x2="470.75" y2="239.72" stroke="#c8102e" stroke-width="1"/>
<circle cx="466.95" cy="229.76" r="3.80" fill="#c8102e"/>
<line x1="504.41" y1="226.61" x2="504.41" y2="246.53" stroke="#c8102e" stroke-width="1"/>
<line x1="500.61" y1="226.61" x2="508.21" y2="226.61" stroke="#c8102e" stroke-width="1"/>
<line x1="500.61" y1="246.53" x2="508.21" y2="246.53" stroke="#c8102e" stroke-width="1"/>
<circle cx="504.41" cy="236.57" r="3.80" fill="#c8102e"/>
<text x="317.9" y="190" font-size="8.2" text-anchor="start" fill="#333333" font-weight="normal" textLength="29.5" lengthAdjust="spacingAndGlyphs" >FL-AT13</text>
<line x1="317.90" y1="191.10" x2="347.40" y2="191.10" stroke="#333333" stroke-width="0.7"/>
<line x1="316.90" y1="200.00" x2="327.90" y2="200.00" stroke="#c8102e" stroke-width="1.1"/>
<circle cx="322.40" cy="200.00" r="3.61" fill="#c8102e"/>
<text x="330.6" y="202.7" font-size="8.2" text-anchor="start" fill="#333333" font-weight="normal" textLength="35.6" lengthAdjust="spacingAndGlyphs" stroke="#333333" stroke-width="0.15" >[scFv4-20]</text>
<text x="369.20000000000005" y="202.7" font-size="8.2" text-anchor="start" fill="#333333" font-weight="normal" textLength="19.200000000000003" lengthAdjust="spacingAndGlyphs" stroke="#333333" stroke-width="0.15" >0 nM</text>
<line x1="316.90" y1="212.00" x2="327.90" y2="212.00" stroke="#3dab3a" stroke-width="1.1"/>
<rect x="319.07" y="208.68" width="6.65" height="6.65" fill="#3dab3a"/>
<text x="330.6" y="214.7" font-size="8.2" text-anchor="start" fill="#333333" font-weight="normal" textLength="35.6" lengthAdjust="spacingAndGlyphs" stroke="#333333" stroke-width="0.15" >[scFv4-20]</text>
<text x="369.20000000000005" y="214.7" font-size="8.2" text-anchor="start" fill="#333333" font-weight="normal" textLength="30.200000000000003" lengthAdjust="spacingAndGlyphs" stroke="#333333" stroke-width="0.15" >0.37 nM</text>
<line x1="316.90" y1="224.00" x2="327.90" y2="224.00" stroke="#f4a11f" stroke-width="1.1"/>
<path d="M322.40,220.39 L326.01,226.71 L318.79,226.71Z" fill="#f4a11f"/>
<text x="330.6" y="226.7" font-size="8.2" text-anchor="start" fill="#333333" font-weight="normal" textLength="35.6" lengthAdjust="spacingAndGlyphs" stroke="#333333" stroke-width="0.15" >[scFv4-20]</text>
<text x="369.20000000000005" y="226.7" font-size="8.2" text-anchor="start" fill="#333333" font-weight="normal" textLength="30.200000000000003" lengthAdjust="spacingAndGlyphs" stroke="#333333" stroke-width="0.15" >1.11 nM</text>
<line x1="316.90" y1="236.00" x2="327.90" y2="236.00" stroke="#4f1c6b" stroke-width="1.1"/>
<path d="M322.40,239.61 L326.01,233.29 L318.79,233.29Z" fill="#4f1c6b"/>
<text x="330.6" y="238.7" font-size="8.2" text-anchor="start" fill="#333333" font-weight="normal" textLength="35.6" lengthAdjust="spacingAndGlyphs" stroke="#333333" stroke-width="0.15" >[scFv4-20]</text>
<text x="369.20000000000005" y="238.7" font-size="8.2" text-anchor="start" fill="#333333" font-weight="normal" textLength="30.200000000000003" lengthAdjust="spacingAndGlyphs" stroke="#333333" stroke-width="0.15" >3.33 nM</text>
<line x1="316.90" y1="248.00" x2="327.90" y2="248.00" stroke="#1c4a7d" stroke-width="1.1"/>
<path d="M322.40,244.29 L326.10,248.00 L322.40,251.71 L318.69,248.00Z" fill="#1c4a7d"/>
<text x="330.6" y="250.7" font-size="8.2" text-anchor="start" fill="#333333" font-weight="normal" textLength="35.6" lengthAdjust="spacingAndGlyphs" stroke="#333333" stroke-width="0.15" >[scFv4-20]</text>
<text x="369.20000000000005" y="250.7" font-size="8.2" text-anchor="start" fill="#333333" font-weight="normal" textLength="23.299999999999997" lengthAdjust="spacingAndGlyphs" stroke="#333333" stroke-width="0.15" >10 nM</text>
<text x="7.7" y="433.8" font-size="12.3" text-anchor="start" fill="#111" font-weight="bold" >D</text>
<line x1="40.80" y1="442.00" x2="40.80" y2="639.60" stroke="#262626" stroke-width="1.3"/>
<line x1="37.50" y1="639.00" x2="40.80" y2="639.00" stroke="#262626" stroke-width="1.1"/>
<text x="34.8" y="642.3" font-size="9.5" text-anchor="end" fill="#333333" font-weight="normal" >0.0</text>
<line x1="37.50" y1="600.20" x2="40.80" y2="600.20" stroke="#262626" stroke-width="1.1"/>
<text x="34.8" y="603.5" font-size="9.5" text-anchor="end" fill="#333333" font-weight="normal" >0.2</text>
<line x1="37.50" y1="561.40" x2="40.80" y2="561.40" stroke="#262626" stroke-width="1.1"/>
<text x="34.8" y="564.6999999999999" font-size="9.5" text-anchor="end" fill="#333333" font-weight="normal" >0.4</text>
<line x1="37.50" y1="522.60" x2="40.80" y2="522.60" stroke="#262626" stroke-width="1.1"/>
<text x="34.8" y="525.9" font-size="9.5" text-anchor="end" fill="#333333" font-weight="normal" >0.6</text>
<line x1="37.50" y1="483.80" x2="40.80" y2="483.80" stroke="#262626" stroke-width="1.1"/>
<text x="34.8" y="487.09999999999997" font-size="9.5" text-anchor="end" fill="#333333" font-weight="normal" >0.8</text>
<line x1="37.50" y1="445.00" x2="40.80" y2="445.00" stroke="#262626" stroke-width="1.1"/>
<text x="34.8" y="448.3" font-size="9.5" text-anchor="end" fill="#333333" font-weight="normal" >1.0</text>
<line x1="40.20" y1="639.20" x2="237.00" y2="639.20" stroke="#262626" stroke-width="1.2"/>
<line x1="41.00" y1="639.20" x2="41.00" y2="642.70" stroke="#262626" stroke-width="1.0"/>
<line x1="70.20" y1="639.20" x2="70.20" y2="641.40" stroke="#262626" stroke-width="1.0"/>
<line x1="87.28" y1="639.20" x2="87.28" y2="641.40" stroke="#262626" stroke-width="1.0"/>
<line x1="99.40" y1="639.20" x2="99.40" y2="641.40" stroke="#262626" stroke-width="1.0"/>
<line x1="108.80" y1="639.20" x2="108.80" y2="641.40" stroke="#262626" stroke-width="1.0"/>
<line x1="116.48" y1="639.20" x2="116.48" y2="641.40" stroke="#262626" stroke-width="1.0"/>
<line x1="122.97" y1="639.20" x2="122.97" y2="641.40" stroke="#262626" stroke-width="1.0"/>
<line x1="128.60" y1="639.20" x2="128.60" y2="641.40" stroke="#262626" stroke-width="1.0"/>
<line x1="133.56" y1="639.20" x2="133.56" y2="641.40" stroke="#262626" stroke-width="1.0"/>
<line x1="138.00" y1="639.20" x2="138.00" y2="642.70" stroke="#262626" stroke-width="1.0"/>
<line x1="167.20" y1="639.20" x2="167.20" y2="641.40" stroke="#262626" stroke-width="1.0"/>
<line x1="184.28" y1="639.20" x2="184.28" y2="641.40" stroke="#262626" stroke-width="1.0"/>
<line x1="196.40" y1="639.20" x2="196.40" y2="641.40" stroke="#262626" stroke-width="1.0"/>
<line x1="205.80" y1="639.20" x2="205.80" y2="641.40" stroke="#262626" stroke-width="1.0"/>
<line x1="213.48" y1="639.20" x2="213.48" y2="641.40" stroke="#262626" stroke-width="1.0"/>
<line x1="219.97" y1="639.20" x2="219.97" y2="641.40" stroke="#262626" stroke-width="1.0"/>
<line x1="225.60" y1="639.20" x2="225.60" y2="641.40" stroke="#262626" stroke-width="1.0"/>
<line x1="230.56" y1="639.20" x2="230.56" y2="641.40" stroke="#262626" stroke-width="1.0"/>
<line x1="235.00" y1="639.20" x2="235.00" y2="642.70" stroke="#262626" stroke-width="1.0"/>
<text x="41.0" y="653.5" font-size="9.5" text-anchor="middle" fill="#333333" font-weight="normal" >0.1</text>
<text x="138.0" y="653.5" font-size="9.5" text-anchor="middle" fill="#333333" font-weight="normal" >1</text>
<text x="235.0" y="653.5" font-size="9.5" text-anchor="middle" fill="#333333" font-weight="normal" >10</text>
<text x="137.3" y="667.2" font-size="10" text-anchor="middle" fill="#333333" font-weight="normal" textLength="75.4" lengthAdjust="spacingAndGlyphs" stroke="#333333" stroke-width="0.25" >[FRETS-VWF73] (µM)</text>
<text x="0" y="0" font-size="10" text-anchor="middle" fill="#333333" textLength="66.4" lengthAdjust="spacingAndGlyphs" stroke="#333333" stroke-width="0.25" transform="translate(16.3,542.4) rotate(-90)">Velocity (ΔFU/sec)</text>
<polyline points="45.40,633.33 46.32,633.05 47.25,632.75 48.17,632.44 49.10,632.12 50.03,631.78 50.95,631.43 51.88,631.06 52.80,630.67 53.73,630.27 54.65,629.85 55.58,629.41 56.51,628.95 57.43,628.47 58.36,627.97 59.28,627.45 60.21,626.91 61.14,626.34 62.06,625.75 62.99,625.14 63.91,624.51 64.84,623.85 65.76,623.17 66.69,622.46 67.62,621.72 68.54,620.96 69.47,620.17 70.39,619.35 71.32,618.50 72.25,617.63 73.17,616.73 74.10,615.80 75.02,614.84 75.95,613.86 76.87,612.84 77.80,611.80 78.73,610.73 79.65,609.63 80.58,608.50 81.50,607.35 82.43,606.17 83.36,604.96 84.28,603.73 85.21,602.48 86.13,601.20 87.06,599.90 87.98,598.59 88.91,597.25 89.84,595.89 90.76,594.52 91.69,593.13 92.61,591.73 93.54,590.32 94.47,588.89 95.39,587.46 96.32,586.03 97.24,584.58 98.17,583.14 99.09,581.69 100.02,580.25 100.95,578.81 101.87,577.37 102.80,575.94 103.72,574.52 104.65,573.11 105.58,571.71 106.50,570.33 107.43,568.96 108.35,567.60 109.28,566.27 110.20,564.95 111.13,563.66 112.06,562.39 112.98,561.14 113.91,559.91 114.83,558.71 115.76,557.54 116.68,556.39 117.61,555.27 118.54,554.17 119.46,553.11 120.39,552.07 121.31,551.06 122.24,550.08 123.17,549.12 124.09,548.20 125.02,547.30 125.94,546.44 126.87,545.59 127.79,544.78 128.72,544.00 129.65,543.24 130.57,542.51 131.50,541.80 132.42,541.12 133.35,540.47 134.28,539.84 135.20,539.23 136.13,538.65 137.05,538.09 137.98,537.55 138.90,537.03 139.83,536.54 140.76,536.06 141.68,535.61 142.61,535.17 143.53,534.75 144.46,534.35 145.39,533.97 146.31,533.60 147.24,533.25 148.16,532.91 149.09,532.59 150.01,532.29 150.94,531.99 151.87,531.71 152.79,531.45 153.72,531.19 154.64,530.95 155.57,530.71 156.50,530.49 157.42,530.28 158.35,530.08 159.27,529.89 160.20,529.70 161.12,529.53 162.05,529.36 162.98,529.20 163.90,529.05 164.83,528.91 165.75,528.77 166.68,528.64 167.61,528.52 168.53,528.40 169.46,528.28 170.38,528.18 171.31,528.07 172.23,527.98 173.16,527.88 174.09,527.80 175.01,527.71 175.94,527.63 176.86,527.56 177.79,527.48 178.72,527.42 179.64,527.35 180.57,527.29 181.49,527.23 182.42,527.17 183.34,527.12 184.27,527.07 185.20,527.02 186.12,526.97 187.05,526.93 187.97,526.89 188.90,526.85 189.83,526.81 190.75,526.78 191.68,526.74 192.60,526.71 193.53,526.68 194.45,526.65 195.38,526.62 196.31,526.60 197.23,526.57 198.16,526.55 199.08,526.52 200.01,526.50 200.94,526.48 201.86,526.46 202.79,526.44 203.71,526.43 204.64,526.41 205.56,526.39 206.49,526.38 207.42,526.37 208.34,526.35 209.27,526.34 210.19,526.33 211.12,526.31 212.05,526.30 212.97,526.29 213.90,526.28 214.82,526.27 215.75,526.26 216.67,526.26 217.60,526.25 218.53,526.24 219.45,526.23 220.38,526.23 221.30,526.22 222.23,526.21 223.15,526.21 224.08,526.20 225.01,526.20 225.93,526.19 226.86,526.19 227.78,526.18 228.71,526.18 229.64,526.17 230.56,526.17" fill="none" stroke="#c8102e" stroke-width="1.1" style="mix-blend-mode:multiply"/>
<polyline points="45.40,633.38 46.32,633.10 47.25,632.81 48.17,632.50 49.10,632.18 50.03,631.84 50.95,631.49 51.88,631.13 52.80,630.74 53.73,630.34 54.65,629.92 55.58,629.49 56.51,629.03 57.43,628.56 58.36,628.06 59.28,627.55 60.21,627.01 61.14,626.45 62.06,625.87 62.99,625.26 63.91,624.63 64.84,623.98 65.76,623.30 66.69,622.60 67.62,621.87 68.54,621.11 69.47,620.33 70.39,619.52 71.32,618.68 72.25,617.81 73.17,616.92 74.10,616.00 75.02,615.05 75.95,614.07 76.87,613.07 77.80,612.03 78.73,610.97 79.65,609.88 80.58,608.76 81.50,607.62 82.43,606.45 83.36,605.26 84.28,604.04 85.21,602.79 86.13,601.53 87.06,600.24 87.98,598.93 88.91,597.61 89.84,596.26 90.76,594.90 91.69,593.53 92.61,592.14 93.54,590.74 94.47,589.32 95.39,587.91 96.32,586.48 97.24,585.05 98.17,583.62 99.09,582.19 100.02,580.75 100.95,579.33 101.87,577.90 102.80,576.48 103.72,575.08 104.65,573.68 105.58,572.29 106.50,570.92 107.43,569.56 108.35,568.22 109.28,566.89 110.20,565.59 111.13,564.31 112.06,563.05 112.98,561.81 113.91,560.59 114.83,559.40 115.76,558.24 116.68,557.10 117.61,555.99 118.54,554.90 119.46,553.84 120.39,552.82 121.31,551.81 122.24,550.84 123.17,549.90 124.09,548.98 125.02,548.09 125.94,547.23 126.87,546.40 127.79,545.59 128.72,544.81 129.65,544.06 130.57,543.34 131.50,542.64 132.42,541.96 133.35,541.31 134.28,540.69 135.20,540.09 136.13,539.51 137.05,538.96 137.98,538.42 138.90,537.91 139.83,537.42 140.76,536.95 141.68,536.50 142.61,536.06 143.53,535.65 144.46,535.25 145.39,534.87 146.31,534.51 147.24,534.16 148.16,533.83 149.09,533.51 150.01,533.20 150.94,532.91 151.87,532.63 152.79,532.37 153.72,532.12 154.64,531.88 155.57,531.64 156.50,531.43 157.42,531.22 158.35,531.02 159.27,530.82 160.20,530.64 161.12,530.47 162.05,530.30 162.98,530.15 163.90,530.00 164.83,529.85 165.75,529.72 166.68,529.59 167.61,529.47 168.53,529.35 169.46,529.24 170.38,529.13 171.31,529.03 172.23,528.93 173.16,528.84 174.09,528.75 175.01,528.67 175.94,528.59 176.86,528.51 177.79,528.44 178.72,528.37 179.64,528.31 180.57,528.25 181.49,528.19 182.42,528.13 183.34,528.08 184.27,528.03 185.20,527.98 186.12,527.94 187.05,527.89 187.97,527.85 188.90,527.81 189.83,527.78 190.75,527.74 191.68,527.71 192.60,527.67 193.53,527.64 194.45,527.62 195.38,527.59 196.31,527.56 197.23,527.54 198.16,527.51 199.08,527.49 200.01,527.47 200.94,527.45 201.86,527.43 202.79,527.41 203.71,527.39 204.64,527.38 205.56,527.36 206.49,527.35 207.42,527.33 208.34,527.32 209.27,527.31 210.19,527.29 211.12,527.28 212.05,527.27 212.97,527.26 213.90,527.25 214.82,527.24 215.75,527.23 216.67,527.22 217.60,527.22 218.53,527.21 219.45,527.20 220.38,527.19 221.30,527.19 222.23,527.18 223.15,527.18 224.08,527.17 225.01,527.16 225.93,527.16 226.86,527.15 227.78,527.15 228.71,527.15 229.64,527.14 230.56,527.14" fill="none" stroke="#3dab3a" stroke-width="1.1" style="mix-blend-mode:multiply"/>
<polyline points="45.40,633.49 46.32,633.23 47.25,632.96 48.17,632.68 49.10,632.38 50.03,632.08 50.95,631.76 51.88,631.42 52.80,631.07 53.73,630.71 54.65,630.33 55.58,629.94 56.51,629.53 57.43,629.10 58.36,628.66 59.28,628.20 60.21,627.72 61.14,627.22 62.06,626.70 62.99,626.17 63.91,625.61 64.84,625.04 65.76,624.44 66.69,623.83 67.62,623.19 68.54,622.53 69.47,621.85 70.39,621.14 71.32,620.41 72.25,619.67 73.17,618.89 74.10,618.10 75.02,617.28 75.95,616.44 76.87,615.58 77.80,614.69 78.73,613.78 79.65,612.85 80.58,611.90 81.50,610.93 82.43,609.93 83.36,608.92 84.28,607.88 85.21,606.82 86.13,605.75 87.06,604.66 87.98,603.55 88.91,602.43 89.84,601.29 90.76,600.14 91.69,598.97 92.61,597.80 93.54,596.61 94.47,595.41 95.39,594.21 96.32,593.00 97.24,591.79 98.17,590.57 99.09,589.35 100.02,588.13 100.95,586.91 101.87,585.70 102.80,584.48 103.72,583.28 104.65,582.07 105.58,580.88 106.50,579.70 107.43,578.53 108.35,577.37 109.28,576.22 110.20,575.08 111.13,573.97 112.06,572.86 112.98,571.78 113.91,570.71 114.83,569.66 115.76,568.63 116.68,567.62 117.61,566.64 118.54,565.67 119.46,564.72 120.39,563.80 121.31,562.90 122.24,562.02 123.17,561.17 124.09,560.33 125.02,559.52 125.94,558.74 126.87,557.97 127.79,557.23 128.72,556.51 129.65,555.82 130.57,555.14 131.50,554.49 132.42,553.86 133.35,553.25 134.28,552.66 135.20,552.09 136.13,551.54 137.05,551.01 137.98,550.50 138.90,550.01 139.83,549.54 140.76,549.09 141.68,548.65 142.61,548.23 143.53,547.82 144.46,547.43 145.39,547.06 146.31,546.70 147.24,546.36 148.16,546.03 149.09,545.71 150.01,545.41 150.94,545.12 151.87,544.84 152.79,544.57 153.72,544.32 154.64,544.07 155.57,543.84 156.50,543.62 157.42,543.40 158.35,543.20 159.27,543.00 160.20,542.81 161.12,542.63 162.05,542.46 162.98,542.30 163.90,542.14 164.83,541.99 165.75,541.85 166.68,541.71 167.61,541.58 168.53,541.46 169.46,541.34 170.38,541.22 171.31,541.12 172.23,541.01 173.16,540.91 174.09,540.82 175.01,540.73 175.94,540.64 176.86,540.56 177.79,540.48 178.72,540.41 179.64,540.34 180.57,540.27 181.49,540.21 182.42,540.15 183.34,540.09 184.27,540.03 185.20,539.98 186.12,539.93 187.05,539.88 187.97,539.83 188.90,539.79 189.83,539.75 190.75,539.71 191.68,539.67 192.60,539.63 193.53,539.60 194.45,539.56 195.38,539.53 196.31,539.50 197.23,539.47 198.16,539.45 199.08,539.42 200.01,539.39 200.94,539.37 201.86,539.35 202.79,539.33 203.71,539.31 204.64,539.29 205.56,539.27 206.49,539.25 207.42,539.23 208.34,539.22 209.27,539.20 210.19,539.19 211.12,539.17 212.05,539.16 212.97,539.15 213.90,539.14 214.82,539.13 215.75,539.11 216.67,539.10 217.60,539.09 218.53,539.08 219.45,539.08 220.38,539.07 221.30,539.06 222.23,539.05 223.15,539.04 224.08,539.04 225.01,539.03 225.93,539.02 226.86,539.02 227.78,539.01 228.71,539.01 229.64,539.00 230.56,539.00" fill="none" stroke="#f4a11f" stroke-width="1.1"/>
<polyline points="45.40,636.31 46.32,636.19 47.25,636.07 48.17,635.94 49.10,635.81 50.03,635.67 50.95,635.52 51.88,635.37 52.80,635.21 53.73,635.05 54.65,634.88 55.58,634.71 56.51,634.52 57.43,634.33 58.36,634.13 59.28,633.93 60.21,633.72 61.14,633.49 62.06,633.27 62.99,633.03 63.91,632.78 64.84,632.53 65.76,632.26 66.69,631.99 67.62,631.70 68.54,631.41 69.47,631.11 70.39,630.80 71.32,630.47 72.25,630.14 73.17,629.79 74.10,629.44 75.02,629.07 75.95,628.69 76.87,628.31 77.80,627.91 78.73,627.49 79.65,627.07 80.58,626.64 81.50,626.19 82.43,625.74 83.36,625.27 84.28,624.79 85.21,624.30 86.13,623.80 87.06,623.29 87.98,622.76 88.91,622.23 89.84,621.68 90.76,621.13 91.69,620.57 92.61,619.99 93.54,619.41 94.47,618.82 95.39,618.22 96.32,617.62 97.24,617.00 98.17,616.38 99.09,615.76 100.02,615.13 100.95,614.49 101.87,613.85 102.80,613.20 103.72,612.55 104.65,611.90 105.58,611.25 106.50,610.59 107.43,609.94 108.35,609.28 109.28,608.63 110.20,607.98 111.13,607.32 112.06,606.68 112.98,606.03 113.91,605.39 114.83,604.75 115.76,604.12 116.68,603.50 117.61,602.88 118.54,602.27 119.46,601.66 120.39,601.06 121.31,600.47 122.24,599.89 123.17,599.32 124.09,598.76 125.02,598.21 125.94,597.67 126.87,597.14 127.79,596.62 128.72,596.10 129.65,595.61 130.57,595.12 131.50,594.64 132.42,594.17 133.35,593.72 134.28,593.28 135.20,592.84 136.13,592.42 137.05,592.02 137.98,591.62 138.90,591.23 139.83,590.86 140.76,590.49 141.68,590.14 142.61,589.80 143.53,589.46 144.46,589.14 145.39,588.83 146.31,588.53 147.24,588.24 148.16,587.96 149.09,587.68 150.01,587.42 150.94,587.17 151.87,586.92 152.79,586.69 153.72,586.46 154.64,586.24 155.57,586.03 156.50,585.82 157.42,585.63 158.35,585.44 159.27,585.26 160.20,585.08 161.12,584.91 162.05,584.75 162.98,584.60 163.90,584.45 164.83,584.30 165.75,584.16 166.68,584.03 167.61,583.90 168.53,583.78 169.46,583.66 170.38,583.55 171.31,583.44 172.23,583.34 173.16,583.24 174.09,583.14 175.01,583.05 175.94,582.96 176.86,582.88 177.79,582.80 178.72,582.72 179.64,582.65 180.57,582.58 181.49,582.51 182.42,582.44 183.34,582.38 184.27,582.32 185.20,582.26 186.12,582.21 187.05,582.16 187.97,582.11 188.90,582.06 189.83,582.01 190.75,581.97 191.68,581.92 192.60,581.88 193.53,581.85 194.45,581.81 195.38,581.77 196.31,581.74 197.23,581.71 198.16,581.68 199.08,581.65 200.01,581.62 200.94,581.59 201.86,581.56 202.79,581.54 203.71,581.52 204.64,581.49 205.56,581.47 206.49,581.45 207.42,581.43 208.34,581.41 209.27,581.39 210.19,581.37 211.12,581.36 212.05,581.34 212.97,581.33 213.90,581.31 214.82,581.30 215.75,581.28 216.67,581.27 217.60,581.26 218.53,581.25 219.45,581.24 220.38,581.23 221.30,581.22 222.23,581.21 223.15,581.20 224.08,581.19 225.01,581.18 225.93,581.17 226.86,581.16 227.78,581.16 228.71,581.15 229.64,581.14 230.56,581.14" fill="none" stroke="#4f1c6b" stroke-width="1.1"/>
<polyline points="45.40,638.85 46.32,638.84 47.25,638.83 48.17,638.82 49.10,638.81 50.03,638.79 50.95,638.78 51.88,638.77 52.80,638.75 53.73,638.73 54.65,638.72 55.58,638.70 56.51,638.68 57.43,638.66 58.36,638.64 59.28,638.61 60.21,638.59 61.14,638.56 62.06,638.53 62.99,638.50 63.91,638.47 64.84,638.44 65.76,638.40 66.69,638.37 67.62,638.33 68.54,638.28 69.47,638.24 70.39,638.19 71.32,638.14 72.25,638.09 73.17,638.03 74.10,637.97 75.02,637.91 75.95,637.84 76.87,637.77 77.80,637.70 78.73,637.62 79.65,637.53 80.58,637.45 81.50,637.36 82.43,637.26 83.36,637.16 84.28,637.05 85.21,636.94 86.13,636.82 87.06,636.70 87.98,636.57 88.91,636.43 89.84,636.29 90.76,636.15 91.69,635.99 92.61,635.83 93.54,635.67 94.47,635.50 95.39,635.32 96.32,635.13 97.24,634.94 98.17,634.74 99.09,634.54 100.02,634.33 100.95,634.12 101.87,633.89 102.80,633.67 103.72,633.44 104.65,633.20 105.58,632.96 106.50,632.72 107.43,632.47 108.35,632.22 109.28,631.97 110.20,631.71 111.13,631.45 112.06,631.19 112.98,630.93 113.91,630.67 114.83,630.41 115.76,630.16 116.68,629.90 117.61,629.64 118.54,629.39 119.46,629.14 120.39,628.90 121.31,628.65 122.24,628.41 123.17,628.18 124.09,627.95 125.02,627.73 125.94,627.51 126.87,627.29 127.79,627.09 128.72,626.89 129.65,626.69 130.57,626.50 131.50,626.32 132.42,626.14 133.35,625.97 134.28,625.81 135.20,625.65 136.13,625.50 137.05,625.36 137.98,625.22 138.90,625.09 139.83,624.96 140.76,624.84 141.68,624.72 142.61,624.61 143.53,624.51 144.46,624.41 145.39,624.31 146.31,624.22 147.24,624.14 148.16,624.06 149.09,623.98 150.01,623.91 150.94,623.84 151.87,623.77 152.79,623.71 153.72,623.65 154.64,623.60 155.57,623.54 156.50,623.50 157.42,623.45 158.35,623.40 159.27,623.36 160.20,623.32 161.12,623.29 162.05,623.25 162.98,623.22 163.90,623.19 164.83,623.16 165.75,623.13 166.68,623.11 167.61,623.08 168.53,623.06 169.46,623.04 170.38,623.02 171.31,623.00 172.23,622.98 173.16,622.96 174.09,622.95 175.01,622.93 175.94,622.92 176.86,622.91 177.79,622.89 178.72,622.88 179.64,622.87 180.57,622.86 181.49,622.85 182.42,622.84 183.34,622.83 184.27,622.83 185.20,622.82 186.12,622.81 187.05,622.80 187.97,622.80 188.90,622.79 189.83,622.79 190.75,622.78 191.68,622.78 192.60,622.77 193.53,622.77 194.45,622.76 195.38,622.76 196.31,622.76 197.23,622.75 198.16,622.75 199.08,622.75 200.01,622.75 200.94,622.74 201.86,622.74 202.79,622.74 203.71,622.74 204.64,622.73 205.56,622.73 206.49,622.73 207.42,622.73 208.34,622.73 209.27,622.73 210.19,622.72 211.12,622.72 212.05,622.72 212.97,622.72 213.90,622.72 214.82,622.72 215.75,622.72 216.67,622.72 217.60,622.72 218.53,622.72 219.45,622.71 220.38,622.71 221.30,622.71 222.23,622.71 223.15,622.71 224.08,622.71 225.01,622.71 225.93,622.71 226.86,622.71 227.78,622.71 228.71,622.71 229.64,622.71 230.56,622.71" fill="none" stroke="#1c4a7d" stroke-width="1.1"/>
<path d="M45.40,635.10 L49.30,639.00 L45.40,642.90 L41.50,639.00Z" fill="#1c4a7d"/>
<path d="M91.68,631.22 L95.58,635.12 L91.68,639.02 L87.78,635.12Z" fill="#1c4a7d"/>
<path d="M138.00,625.59 L141.90,629.49 L138.00,633.39 L134.10,629.49Z" fill="#1c4a7d"/>
<path d="M184.28,611.24 L188.18,615.14 L184.28,619.04 L180.38,615.14Z" fill="#1c4a7d"/>
<path d="M230.56,621.52 L234.46,625.42 L230.56,629.32 L226.66,625.42Z" fill="#1c4a7d"/>
<path d="M45.40,642.80 L49.20,636.15 L41.60,636.15Z" fill="#4f1c6b"/>
<path d="M91.68,619.71 L95.48,613.06 L87.88,613.06Z" fill="#4f1c6b"/>
<line x1="138.00" y1="587.01" x2="138.00" y2="594.77" stroke="#4f1c6b" stroke-width="1"/>
<line x1="134.20" y1="587.01" x2="141.80" y2="587.01" stroke="#4f1c6b" stroke-width="1"/>
<line x1="134.20" y1="594.77" x2="141.80" y2="594.77" stroke="#4f1c6b" stroke-width="1"/>
<path d="M138.00,594.69 L141.80,588.04 L134.20,588.04Z" fill="#4f1c6b"/>
<line x1="184.28" y1="568.58" x2="184.28" y2="578.28" stroke="#4f1c6b" stroke-width="1"/>
<line x1="180.48" y1="568.58" x2="188.08" y2="568.58" stroke="#4f1c6b" stroke-width="1"/>
<line x1="180.48" y1="578.28" x2="188.08" y2="578.28" stroke="#4f1c6b" stroke-width="1"/>
<path d="M184.28,577.23 L188.08,570.58 L180.48,570.58Z" fill="#4f1c6b"/>
<line x1="230.56" y1="577.70" x2="230.56" y2="597.10" stroke="#4f1c6b" stroke-width="1"/>
<line x1="226.76" y1="577.70" x2="234.36" y2="577.70" stroke="#4f1c6b" stroke-width="1"/>
<line x1="226.76" y1="597.10" x2="234.36" y2="597.10" stroke="#4f1c6b" stroke-width="1"/>
<path d="M230.56,591.20 L234.36,584.55 L226.76,584.55Z" fill="#4f1c6b"/>
<path d="M45.40,631.32 L49.20,637.97 L41.60,637.97Z" fill="#f4a11f"/>
<path d="M91.68,595.82 L95.48,602.47 L87.88,602.47Z" fill="#f4a11f"/>
<line x1="138.00" y1="547.43" x2="138.00" y2="559.07" stroke="#f4a11f" stroke-width="1"/>
<line x1="134.20" y1="547.43" x2="141.80" y2="547.43" stroke="#f4a11f" stroke-width="1"/>
<line x1="134.20" y1="559.07" x2="141.80" y2="559.07" stroke="#f4a11f" stroke-width="1"/>
<path d="M138.00,549.45 L141.80,556.10 L134.20,556.10Z" fill="#f4a11f"/>
<line x1="184.28" y1="527.84" x2="184.28" y2="535.60" stroke="#f4a11f" stroke-width="1"/>
<line x1="180.48" y1="527.84" x2="188.08" y2="527.84" stroke="#f4a11f" stroke-width="1"/>
<line x1="180.48" y1="535.60" x2="188.08" y2="535.60" stroke="#f4a11f" stroke-width="1"/>
<path d="M184.28,527.92 L188.08,534.57 L180.48,534.57Z" fill="#f4a11f"/>
<line x1="230.56" y1="538.70" x2="230.56" y2="554.22" stroke="#f4a11f" stroke-width="1"/>
<line x1="226.76" y1="538.70" x2="234.36" y2="538.70" stroke="#f4a11f" stroke-width="1"/>
<line x1="226.76" y1="554.22" x2="234.36" y2="554.22" stroke="#f4a11f" stroke-width="1"/>
<path d="M230.56,542.66 L234.36,549.31 L226.76,549.31Z" fill="#f4a11f"/>
<rect x="41.90" y="630.65" width="7.00" height="7.00" fill="#3dab3a"/>
<rect x="88.18" y="591.85" width="7.00" height="7.00" fill="#3dab3a"/>
<line x1="138.00" y1="536.96" x2="138.00" y2="544.72" stroke="#3dab3a" stroke-width="1"/>
<line x1="134.20" y1="536.96" x2="141.80" y2="536.96" stroke="#3dab3a" stroke-width="1"/>
<line x1="134.20" y1="544.72" x2="141.80" y2="544.72" stroke="#3dab3a" stroke-width="1"/>
<rect x="134.50" y="537.34" width="7.00" height="7.00" fill="#3dab3a"/>
<line x1="184.28" y1="524.35" x2="184.28" y2="535.99" stroke="#3dab3a" stroke-width="1"/>
<line x1="180.48" y1="524.35" x2="188.08" y2="524.35" stroke="#3dab3a" stroke-width="1"/>
<line x1="180.48" y1="535.99" x2="188.08" y2="535.99" stroke="#3dab3a" stroke-width="1"/>
<rect x="180.78" y="526.67" width="7.00" height="7.00" fill="#3dab3a"/>
<line x1="230.56" y1="507.47" x2="230.56" y2="542.39" stroke="#3dab3a" stroke-width="1"/>
<line x1="226.76" y1="507.47" x2="234.36" y2="507.47" stroke="#3dab3a" stroke-width="1"/>
<line x1="226.76" y1="542.39" x2="234.36" y2="542.39" stroke="#3dab3a" stroke-width="1"/>
<rect x="227.06" y="521.43" width="7.00" height="7.00" fill="#3dab3a"/>
<circle cx="45.40" cy="634.15" r="3.80" fill="#c8102e"/>
<circle cx="91.68" cy="589.72" r="3.80" fill="#c8102e"/>
<circle cx="138.00" cy="533.66" r="3.80" fill="#c8102e"/>
<line x1="184.28" y1="514.26" x2="184.28" y2="525.90" stroke="#c8102e" stroke-width="1"/>
<line x1="180.48" y1="514.26" x2="188.08" y2="514.26" stroke="#c8102e" stroke-width="1"/>
<line x1="180.48" y1="525.90" x2="188.08" y2="525.90" stroke="#c8102e" stroke-width="1"/>
<circle cx="184.28" cy="520.08" r="3.80" fill="#c8102e"/>
<circle cx="230.56" cy="535.79" r="3.80" fill="#c8102e"/>
<text x="48.6" y="453.8" font-size="8.2" text-anchor="start" fill="#333333" font-weight="normal" textLength="16.8" lengthAdjust="spacingAndGlyphs" >MT4</text>
<line x1="48.60" y1="454.90" x2="65.40" y2="454.90" stroke="#333333" stroke-width="0.7"/>
<line x1="47.60" y1="463.80" x2="58.60" y2="463.80" stroke="#c8102e" stroke-width="1.1"/>
<circle cx="53.10" cy="463.80" r="3.61" fill="#c8102e"/>
<text x="61.2" y="466.5" font-size="8.2" text-anchor="start" fill="#333333" font-weight="normal" textLength="35.6" lengthAdjust="spacingAndGlyphs" stroke="#333333" stroke-width="0.15" >[scFv4-20]</text>
<text x="99.80000000000001" y="466.5" font-size="8.2" text-anchor="start" fill="#333333" font-weight="normal" textLength="19.4" lengthAdjust="spacingAndGlyphs" stroke="#333333" stroke-width="0.15" >0 nM</text>
<line x1="47.60" y1="475.80" x2="58.60" y2="475.80" stroke="#3dab3a" stroke-width="1.1"/>
<rect x="49.77" y="472.48" width="6.65" height="6.65" fill="#3dab3a"/>
<text x="61.2" y="478.5" font-size="8.2" text-anchor="start" fill="#333333" font-weight="normal" textLength="35.6" lengthAdjust="spacingAndGlyphs" stroke="#333333" stroke-width="0.15" >[scFv4-20]</text>
<text x="99.80000000000001" y="478.5" font-size="8.2" text-anchor="start" fill="#333333" font-weight="normal" textLength="30.799999999999997" lengthAdjust="spacingAndGlyphs" stroke="#333333" stroke-width="0.15" >0.12 nM</text>
<line x1="47.60" y1="487.80" x2="58.60" y2="487.80" stroke="#f4a11f" stroke-width="1.1"/>
<path d="M53.10,484.19 L56.71,490.51 L49.49,490.51Z" fill="#f4a11f"/>
<text x="61.2" y="490.5" font-size="8.2" text-anchor="start" fill="#333333" font-weight="normal" textLength="35.6" lengthAdjust="spacingAndGlyphs" stroke="#333333" stroke-width="0.15" >[scFv4-20]</text>
<text x="99.80000000000001" y="490.5" font-size="8.2" text-anchor="start" fill="#333333" font-weight="normal" textLength="30.799999999999997" lengthAdjust="spacingAndGlyphs" stroke="#333333" stroke-width="0.15" >0.37 nM</text>
<line x1="47.60" y1="499.80" x2="58.60" y2="499.80" stroke="#4f1c6b" stroke-width="1.1"/>
<path d="M53.10,503.41 L56.71,497.09 L49.49,497.09Z" fill="#4f1c6b"/>
<text x="61.2" y="502.5" font-size="8.2" text-anchor="start" fill="#333333" font-weight="normal" textLength="35.6" lengthAdjust="spacingAndGlyphs" stroke="#333333" stroke-width="0.15" >[scFv4-20]</text>
<text x="99.80000000000001" y="502.5" font-size="8.2" text-anchor="start" fill="#333333" font-weight="normal" textLength="26.0" lengthAdjust="spacingAndGlyphs" stroke="#333333" stroke-width="0.15" >1.1 nM</text>
<line x1="47.60" y1="511.80" x2="58.60" y2="511.80" stroke="#1c4a7d" stroke-width="1.1"/>
<path d="M53.10,508.10 L56.80,511.80 L53.10,515.50 L49.40,511.80Z" fill="#1c4a7d"/>
<text x="61.2" y="514.5" font-size="8.2" text-anchor="start" fill="#333333" font-weight="normal" textLength="35.6" lengthAdjust="spacingAndGlyphs" stroke="#333333" stroke-width="0.15" >[scFv4-20]</text>
<text x="99.80000000000001" y="514.5" font-size="8.2" text-anchor="start" fill="#333333" font-weight="normal" textLength="26.0" lengthAdjust="spacingAndGlyphs" stroke="#333333" stroke-width="0.15" >3.3 nM</text>
<text x="276.6" y="433.8" font-size="12" text-anchor="start" fill="#111" font-weight="bold" >E</text>
<line x1="310.20" y1="442.10" x2="310.20" y2="639.40" stroke="#262626" stroke-width="1.3"/>
<line x1="306.90" y1="638.80" x2="310.20" y2="638.80" stroke="#262626" stroke-width="1.1"/>
<text x="304.2" y="642.0999999999999" font-size="9.5" text-anchor="end" fill="#333333" font-weight="normal" >0.0</text>
<line x1="306.90" y1="590.38" x2="310.20" y2="590.38" stroke="#262626" stroke-width="1.1"/>
<text x="304.2" y="593.6759999999999" font-size="9.5" text-anchor="end" fill="#333333" font-weight="normal" >0.4</text>
<line x1="306.90" y1="541.95" x2="310.20" y2="541.95" stroke="#262626" stroke-width="1.1"/>
<text x="304.2" y="545.252" font-size="9.5" text-anchor="end" fill="#333333" font-weight="normal" >0.8</text>
<line x1="306.90" y1="493.53" x2="310.20" y2="493.53" stroke="#262626" stroke-width="1.1"/>
<text x="304.2" y="496.828" font-size="9.5" text-anchor="end" fill="#333333" font-weight="normal" >1.2</text>
<line x1="306.90" y1="445.10" x2="310.20" y2="445.10" stroke="#262626" stroke-width="1.1"/>
<text x="304.2" y="448.40399999999994" font-size="9.5" text-anchor="end" fill="#333333" font-weight="normal" >1.6</text>
<line x1="309.60" y1="639.00" x2="510.50" y2="639.00" stroke="#262626" stroke-width="1.2"/>
<line x1="309.91" y1="639.00" x2="309.91" y2="641.20" stroke="#262626" stroke-width="1.0"/>
<line x1="319.68" y1="639.00" x2="319.68" y2="641.20" stroke="#262626" stroke-width="1.0"/>
<line x1="327.26" y1="639.00" x2="327.26" y2="641.20" stroke="#262626" stroke-width="1.0"/>
<line x1="333.45" y1="639.00" x2="333.45" y2="641.20" stroke="#262626" stroke-width="1.0"/>
<line x1="338.69" y1="639.00" x2="338.69" y2="641.20" stroke="#262626" stroke-width="1.0"/>
<line x1="343.22" y1="639.00" x2="343.22" y2="641.20" stroke="#262626" stroke-width="1.0"/>
<line x1="347.22" y1="639.00" x2="347.22" y2="641.20" stroke="#262626" stroke-width="1.0"/>
<line x1="350.80" y1="639.00" x2="350.80" y2="642.50" stroke="#262626" stroke-width="1.0"/>
<line x1="374.34" y1="639.00" x2="374.34" y2="641.20" stroke="#262626" stroke-width="1.0"/>
<line x1="388.11" y1="639.00" x2="388.11" y2="641.20" stroke="#262626" stroke-width="1.0"/>
<line x1="397.88" y1="639.00" x2="397.88" y2="641.20" stroke="#262626" stroke-width="1.0"/>
<line x1="405.46" y1="639.00" x2="405.46" y2="641.20" stroke="#262626" stroke-width="1.0"/>
<line x1="411.65" y1="639.00" x2="411.65" y2="641.20" stroke="#262626" stroke-width="1.0"/>
<line x1="416.89" y1="639.00" x2="416.89" y2="641.20" stroke="#262626" stroke-width="1.0"/>
<line x1="421.42" y1="639.00" x2="421.42" y2="641.20" stroke="#262626" stroke-width="1.0"/>
<line x1="425.42" y1="639.00" x2="425.42" y2="641.20" stroke="#262626" stroke-width="1.0"/>
<line x1="429.00" y1="639.00" x2="429.00" y2="642.50" stroke="#262626" stroke-width="1.0"/>
<line x1="452.54" y1="639.00" x2="452.54" y2="641.20" stroke="#262626" stroke-width="1.0"/>
<line x1="466.31" y1="639.00" x2="466.31" y2="641.20" stroke="#262626" stroke-width="1.0"/>
<line x1="476.08" y1="639.00" x2="476.08" y2="641.20" stroke="#262626" stroke-width="1.0"/>
<line x1="483.66" y1="639.00" x2="483.66" y2="641.20" stroke="#262626" stroke-width="1.0"/>
<line x1="489.85" y1="639.00" x2="489.85" y2="641.20" stroke="#262626" stroke-width="1.0"/>
<line x1="495.09" y1="639.00" x2="495.09" y2="641.20" stroke="#262626" stroke-width="1.0"/>
<line x1="499.62" y1="639.00" x2="499.62" y2="641.20" stroke="#262626" stroke-width="1.0"/>
<line x1="503.62" y1="639.00" x2="503.62" y2="641.20" stroke="#262626" stroke-width="1.0"/>
<line x1="507.20" y1="639.00" x2="507.20" y2="642.50" stroke="#262626" stroke-width="1.0"/>
<text x="309.9108821190776" y="653.3" font-size="9.5" text-anchor="middle" fill="#333333" font-weight="normal" >0.03</text>
<text x="350.8" y="653.3" font-size="9.5" text-anchor="middle" fill="#333333" font-weight="normal" >0.1</text>
<text x="429.0" y="653.3" font-size="9.5" text-anchor="middle" fill="#333333" font-weight="normal" >1</text>
<text x="507.2" y="653.3" font-size="9.5" text-anchor="middle" fill="#333333" font-weight="normal" >10</text>
<text x="409" y="667.2" font-size="10" text-anchor="middle" fill="#333333" font-weight="normal" textLength="75.4" lengthAdjust="spacingAndGlyphs" stroke="#333333" stroke-width="0.25" >[FRETS-VWF73] (µM)</text>
<text x="0" y="0" font-size="10" text-anchor="middle" fill="#333333" textLength="66" lengthAdjust="spacingAndGlyphs" stroke="#333333" stroke-width="0.25" transform="translate(285.4,542.3) rotate(-90)">Velocity (ΔFU/sec)</text>
<polyline points="317.03,637.66 317.97,637.62 318.90,637.57 319.83,637.51 320.77,637.46 321.70,637.40 322.63,637.34 323.56,637.28 324.50,637.22 325.43,637.15 326.36,637.08 327.30,637.01 328.23,636.93 329.16,636.86 330.09,636.77 331.03,636.69 331.96,636.60 332.89,636.51 333.83,636.41 334.76,636.31 335.69,636.21 336.63,636.10 337.56,635.99 338.49,635.87 339.42,635.75 340.36,635.62 341.29,635.49 342.22,635.35 343.16,635.21 344.09,635.06 345.02,634.90 345.95,634.74 346.89,634.57 347.82,634.40 348.75,634.22 349.69,634.03 350.62,633.83 351.55,633.63 352.49,633.41 353.42,633.19 354.35,632.96 355.28,632.72 356.22,632.48 357.15,632.22 358.08,631.95 359.02,631.67 359.95,631.38 360.88,631.08 361.81,630.77 362.75,630.45 363.68,630.11 364.61,629.77 365.55,629.41 366.48,629.03 367.41,628.64 368.35,628.24 369.28,627.82 370.21,627.39 371.14,626.94 372.08,626.48 373.01,626.00 373.94,625.50 374.88,624.99 375.81,624.45 376.74,623.90 377.67,623.33 378.61,622.74 379.54,622.13 380.47,621.50 381.41,620.86 382.34,620.18 383.27,619.49 384.21,618.78 385.14,618.04 386.07,617.28 387.00,616.50 387.94,615.70 388.87,614.87 389.80,614.01 390.74,613.14 391.67,612.23 392.60,611.31 393.53,610.36 394.47,609.38 395.40,608.38 396.33,607.35 397.27,606.30 398.20,605.22 399.13,604.11 400.07,602.98 401.00,601.83 401.93,600.65 402.86,599.44 403.80,598.22 404.73,596.96 405.66,595.69 406.60,594.39 407.53,593.06 408.46,591.72 409.39,590.35 410.33,588.96 411.26,587.56 412.19,586.13 413.13,584.68 414.06,583.22 414.99,581.74 415.93,580.25 416.86,578.74 417.79,577.22 418.72,575.68 419.66,574.14 420.59,572.58 421.52,571.02 422.46,569.45 423.39,567.87 424.32,566.29 425.25,564.70 426.19,563.12 427.12,561.53 428.05,559.95 428.99,558.36 429.92,556.79 430.85,555.21 431.79,553.64 432.72,552.08 433.65,550.53 434.58,548.99 435.52,547.46 436.45,545.95 437.38,544.45 438.32,542.96 439.25,541.49 440.18,540.03 441.11,538.60 442.05,537.18 442.98,535.78 443.91,534.40 444.85,533.05 445.78,531.71 446.71,530.40 447.65,529.11 448.58,527.85 449.51,526.61 450.44,525.39 451.38,524.20 452.31,523.03 453.24,521.89 454.18,520.77 455.11,519.68 456.04,518.61 456.97,517.57 457.91,516.56 458.84,515.57 459.77,514.60 460.71,513.66 461.64,512.75 462.57,511.86 463.51,510.99 464.44,510.15 465.37,509.33 466.30,508.54 467.24,507.77 468.17,507.02 469.10,506.30 470.04,505.59 470.97,504.91 471.90,504.25 472.83,503.61 473.77,502.99 474.70,502.39 475.63,501.81 476.57,501.25 477.50,500.71 478.43,500.19 479.37,499.68 480.30,499.19 481.23,498.72 482.16,498.26 483.10,497.82 484.03,497.40 484.96,496.99 485.90,496.59 486.83,496.21 487.76,495.84 488.69,495.49 489.63,495.15 490.56,494.82 491.49,494.50 492.43,494.20 493.36,493.90 494.29,493.62 495.23,493.35 496.16,493.08 497.09,492.83 498.02,492.59 498.96,492.35 499.89,492.13 500.82,491.91 501.76,491.70 502.69,491.50 503.62,491.31" fill="none" stroke="#c8102e" stroke-width="1.1" style="mix-blend-mode:multiply"/>
<polyline points="317.03,637.72 317.97,637.67 318.90,637.62 319.83,637.57 320.77,637.52 321.70,637.47 322.63,637.41 323.56,637.35 324.50,637.29 325.43,637.22 326.36,637.16 327.30,637.09 328.23,637.01 329.16,636.94 330.09,636.86 331.03,636.78 331.96,636.69 332.89,636.60 333.83,636.51 334.76,636.41 335.69,636.31 336.63,636.21 337.56,636.10 338.49,635.98 339.42,635.86 340.36,635.74 341.29,635.61 342.22,635.48 343.16,635.34 344.09,635.19 345.02,635.04 345.95,634.88 346.89,634.72 347.82,634.55 348.75,634.37 349.69,634.19 350.62,634.00 351.55,633.80 352.49,633.59 353.42,633.37 354.35,633.15 355.28,632.91 356.22,632.67 357.15,632.42 358.08,632.16 359.02,631.89 359.95,631.60 360.88,631.31 361.81,631.00 362.75,630.69 363.68,630.36 364.61,630.02 365.55,629.66 366.48,629.29 367.41,628.91 368.35,628.52 369.28,628.11 370.21,627.68 371.14,627.24 372.08,626.78 373.01,626.31 373.94,625.82 374.88,625.31 375.81,624.79 376.74,624.24 377.67,623.68 378.61,623.10 379.54,622.50 380.47,621.88 381.41,621.24 382.34,620.57 383.27,619.89 384.21,619.18 385.14,618.46 386.07,617.71 387.00,616.93 387.94,616.14 388.87,615.32 389.80,614.47 390.74,613.60 391.67,612.71 392.60,611.79 393.53,610.85 394.47,609.88 395.40,608.89 396.33,607.87 397.27,606.83 398.20,605.76 399.13,604.67 400.07,603.55 401.00,602.41 401.93,601.24 402.86,600.05 403.80,598.83 404.73,597.59 405.66,596.32 406.60,595.04 407.53,593.73 408.46,592.40 409.39,591.04 410.33,589.67 411.26,588.28 412.19,586.87 413.13,585.44 414.06,583.99 414.99,582.53 415.93,581.06 416.86,579.57 417.79,578.06 418.72,576.55 419.66,575.03 420.59,573.49 421.52,571.95 422.46,570.41 423.39,568.85 424.32,567.30 425.25,565.74 426.19,564.18 427.12,562.62 428.05,561.07 428.99,559.51 429.92,557.97 430.85,556.42 431.79,554.89 432.72,553.36 433.65,551.85 434.58,550.34 435.52,548.85 436.45,547.37 437.38,545.90 438.32,544.45 439.25,543.02 440.18,541.60 441.11,540.21 442.05,538.83 442.98,537.47 443.91,536.14 444.85,534.82 445.78,533.53 446.71,532.26 447.65,531.01 448.58,529.79 449.51,528.59 450.44,527.42 451.38,526.27 452.31,525.14 453.24,524.05 454.18,522.97 455.11,521.92 456.04,520.90 456.97,519.90 457.91,518.93 458.84,517.98 459.77,517.05 460.71,516.16 461.64,515.28 462.57,514.43 463.51,513.60 464.44,512.80 465.37,512.02 466.30,511.27 467.24,510.53 468.17,509.82 469.10,509.13 470.04,508.47 470.97,507.82 471.90,507.19 472.83,506.59 473.77,506.00 474.70,505.44 475.63,504.89 476.57,504.36 477.50,503.85 478.43,503.35 479.37,502.87 480.30,502.41 481.23,501.97 482.16,501.54 483.10,501.13 484.03,500.73 484.96,500.34 485.90,499.97 486.83,499.61 487.76,499.27 488.69,498.94 489.63,498.62 490.56,498.31 491.49,498.01 492.43,497.73 493.36,497.45 494.29,497.19 495.23,496.93 496.16,496.69 497.09,496.45 498.02,496.22 498.96,496.01 499.89,495.80 500.82,495.60 501.76,495.40 502.69,495.22 503.62,495.04" fill="none" stroke="#3dab3a" stroke-width="1.1" style="mix-blend-mode:multiply"/>
<polyline points="317.03,637.63 317.97,637.58 318.90,637.53 319.83,637.48 320.77,637.43 321.70,637.37 322.63,637.32 323.56,637.26 324.50,637.20 325.43,637.13 326.36,637.07 327.30,637.00 328.23,636.93 329.16,636.85 330.09,636.78 331.03,636.70 331.96,636.61 332.89,636.53 333.83,636.44 334.76,636.34 335.69,636.24 336.63,636.14 337.56,636.04 338.49,635.93 339.42,635.82 340.36,635.70 341.29,635.58 342.22,635.45 343.16,635.32 344.09,635.18 345.02,635.04 345.95,634.90 346.89,634.74 347.82,634.59 348.75,634.42 349.69,634.25 350.62,634.07 351.55,633.89 352.49,633.70 353.42,633.50 354.35,633.30 355.28,633.09 356.22,632.87 357.15,632.64 358.08,632.40 359.02,632.16 359.95,631.90 360.88,631.64 361.81,631.37 362.75,631.09 363.68,630.79 364.61,630.49 365.55,630.18 366.48,629.85 367.41,629.52 368.35,629.17 369.28,628.81 370.21,628.44 371.14,628.06 372.08,627.66 373.01,627.25 373.94,626.83 374.88,626.39 375.81,625.93 376.74,625.47 377.67,624.99 378.61,624.49 379.54,623.97 380.47,623.44 381.41,622.90 382.34,622.34 383.27,621.76 384.21,621.16 385.14,620.54 386.07,619.91 387.00,619.26 387.94,618.59 388.87,617.90 389.80,617.19 390.74,616.46 391.67,615.72 392.60,614.95 393.53,614.16 394.47,613.35 395.40,612.53 396.33,611.68 397.27,610.81 398.20,609.92 399.13,609.01 400.07,608.08 401.00,607.13 401.93,606.16 402.86,605.17 403.80,604.16 404.73,603.13 405.66,602.08 406.60,601.01 407.53,599.92 408.46,598.82 409.39,597.69 410.33,596.55 411.26,595.39 412.19,594.21 413.13,593.01 414.06,591.80 414.99,590.58 415.93,589.34 416.86,588.09 417.79,586.82 418.72,585.54 419.66,584.25 420.59,582.95 421.52,581.64 422.46,580.33 423.39,579.00 424.32,577.67 425.25,576.33 426.19,574.99 427.12,573.64 428.05,572.30 428.99,570.95 429.92,569.60 430.85,568.25 431.79,566.90 432.72,565.55 433.65,564.21 434.58,562.87 435.52,561.54 436.45,560.22 437.38,558.90 438.32,557.59 439.25,556.30 440.18,555.01 441.11,553.73 442.05,552.47 442.98,551.21 443.91,549.98 444.85,548.75 445.78,547.55 446.71,546.35 447.65,545.18 448.58,544.02 449.51,542.88 450.44,541.75 451.38,540.65 452.31,539.56 453.24,538.49 454.18,537.44 455.11,536.41 456.04,535.41 456.97,534.42 457.91,533.45 458.84,532.50 459.77,531.57 460.71,530.67 461.64,529.78 462.57,528.91 463.51,528.07 464.44,527.24 465.37,526.44 466.30,525.65 467.24,524.89 468.17,524.14 469.10,523.42 470.04,522.71 470.97,522.02 471.90,521.36 472.83,520.71 473.77,520.07 474.70,519.46 475.63,518.87 476.57,518.29 477.50,517.73 478.43,517.18 479.37,516.65 480.30,516.14 481.23,515.65 482.16,515.16 483.10,514.70 484.03,514.25 484.96,513.81 485.90,513.39 486.83,512.98 487.76,512.58 488.69,512.20 489.63,511.83 490.56,511.47 491.49,511.13 492.43,510.79 493.36,510.47 494.29,510.16 495.23,509.86 496.16,509.57 497.09,509.28 498.02,509.01 498.96,508.75 499.89,508.50 500.82,508.25 501.76,508.02 502.69,507.79 503.62,507.57" fill="none" stroke="#f4a11f" stroke-width="1.1"/>
<polyline points="317.03,638.28 317.97,638.25 318.90,638.23 319.83,638.21 320.77,638.18 321.70,638.16 322.63,638.13 323.56,638.10 324.50,638.07 325.43,638.04 326.36,638.01 327.30,637.98 328.23,637.95 329.16,637.91 330.09,637.88 331.03,637.84 331.96,637.80 332.89,637.76 333.83,637.71 334.76,637.67 335.69,637.62 336.63,637.58 337.56,637.52 338.49,637.47 339.42,637.42 340.36,637.36 341.29,637.30 342.22,637.24 343.16,637.18 344.09,637.11 345.02,637.04 345.95,636.97 346.89,636.90 347.82,636.82 348.75,636.74 349.69,636.66 350.62,636.57 351.55,636.48 352.49,636.38 353.42,636.29 354.35,636.19 355.28,636.08 356.22,635.97 357.15,635.86 358.08,635.74 359.02,635.62 359.95,635.49 360.88,635.36 361.81,635.22 362.75,635.07 363.68,634.93 364.61,634.77 365.55,634.61 366.48,634.45 367.41,634.27 368.35,634.10 369.28,633.91 370.21,633.72 371.14,633.52 372.08,633.31 373.01,633.10 373.94,632.88 374.88,632.65 375.81,632.41 376.74,632.16 377.67,631.91 378.61,631.64 379.54,631.37 380.47,631.09 381.41,630.79 382.34,630.49 383.27,630.18 384.21,629.86 385.14,629.52 386.07,629.18 387.00,628.82 387.94,628.45 388.87,628.07 389.80,627.68 390.74,627.27 391.67,626.86 392.60,626.43 393.53,625.98 394.47,625.53 395.40,625.06 396.33,624.57 397.27,624.08 398.20,623.56 399.13,623.04 400.07,622.50 401.00,621.94 401.93,621.38 402.86,620.79 403.80,620.19 404.73,619.58 405.66,618.95 406.60,618.31 407.53,617.65 408.46,616.98 409.39,616.30 410.33,615.59 411.26,614.88 412.19,614.15 413.13,613.41 414.06,612.65 414.99,611.88 415.93,611.09 416.86,610.29 417.79,609.48 418.72,608.66 419.66,607.83 420.59,606.98 421.52,606.13 422.46,605.26 423.39,604.38 424.32,603.50 425.25,602.60 426.19,601.70 427.12,600.79 428.05,599.88 428.99,598.95 429.92,598.03 430.85,597.09 431.79,596.16 432.72,595.22 433.65,594.28 434.58,593.33 435.52,592.39 436.45,591.45 437.38,590.50 438.32,589.56 439.25,588.62 440.18,587.69 441.11,586.76 442.05,585.83 442.98,584.91 443.91,583.99 444.85,583.08 445.78,582.18 446.71,581.29 447.65,580.40 448.58,579.53 449.51,578.66 450.44,577.81 451.38,576.96 452.31,576.13 453.24,575.31 454.18,574.50 455.11,573.70 456.04,572.92 456.97,572.15 457.91,571.39 458.84,570.65 459.77,569.92 460.71,569.21 461.64,568.51 462.57,567.82 463.51,567.15 464.44,566.50 465.37,565.86 466.30,565.23 467.24,564.62 468.17,564.02 469.10,563.44 470.04,562.87 470.97,562.32 471.90,561.78 472.83,561.26 473.77,560.75 474.70,560.25 475.63,559.77 476.57,559.30 477.50,558.84 478.43,558.40 479.37,557.97 480.30,557.56 481.23,557.15 482.16,556.76 483.10,556.38 484.03,556.02 484.96,555.66 485.90,555.32 486.83,554.98 487.76,554.66 488.69,554.35 489.63,554.05 490.56,553.75 491.49,553.47 492.43,553.20 493.36,552.94 494.29,552.68 495.23,552.44 496.16,552.20 497.09,551.97 498.02,551.75 498.96,551.53 499.89,551.33 500.82,551.13 501.76,550.94 502.69,550.75 503.62,550.58" fill="none" stroke="#4f1c6b" stroke-width="1.1"/>
<polyline points="317.03,638.68 317.97,638.68 318.90,638.67 319.83,638.67 320.77,638.66 321.70,638.65 322.63,638.65 323.56,638.64 324.50,638.64 325.43,638.63 326.36,638.62 327.30,638.61 328.23,638.61 329.16,638.60 330.09,638.59 331.03,638.58 331.96,638.57 332.89,638.56 333.83,638.55 334.76,638.54 335.69,638.53 336.63,638.52 337.56,638.51 338.49,638.50 339.42,638.49 340.36,638.47 341.29,638.46 342.22,638.45 343.16,638.43 344.09,638.42 345.02,638.40 345.95,638.38 346.89,638.37 347.82,638.35 348.75,638.33 349.69,638.31 350.62,638.29 351.55,638.27 352.49,638.25 353.42,638.23 354.35,638.20 355.28,638.18 356.22,638.15 357.15,638.13 358.08,638.10 359.02,638.07 359.95,638.04 360.88,638.01 361.81,637.98 362.75,637.94 363.68,637.91 364.61,637.87 365.55,637.84 366.48,637.80 367.41,637.76 368.35,637.71 369.28,637.67 370.21,637.62 371.14,637.58 372.08,637.53 373.01,637.48 373.94,637.42 374.88,637.37 375.81,637.31 376.74,637.25 377.67,637.19 378.61,637.13 379.54,637.06 380.47,636.99 381.41,636.92 382.34,636.85 383.27,636.77 384.21,636.69 385.14,636.61 386.07,636.53 387.00,636.44 387.94,636.35 388.87,636.25 389.80,636.15 390.74,636.05 391.67,635.95 392.60,635.84 393.53,635.72 394.47,635.61 395.40,635.49 396.33,635.36 397.27,635.23 398.20,635.10 399.13,634.96 400.07,634.82 401.00,634.68 401.93,634.53 402.86,634.37 403.80,634.21 404.73,634.04 405.66,633.87 406.60,633.70 407.53,633.52 408.46,633.33 409.39,633.14 410.33,632.94 411.26,632.74 412.19,632.53 413.13,632.32 414.06,632.10 414.99,631.88 415.93,631.65 416.86,631.41 417.79,631.17 418.72,630.92 419.66,630.67 420.59,630.41 421.52,630.15 422.46,629.88 423.39,629.61 424.32,629.32 425.25,629.04 426.19,628.75 427.12,628.45 428.05,628.15 428.99,627.84 429.92,627.53 430.85,627.22 431.79,626.90 432.72,626.57 433.65,626.24 434.58,625.91 435.52,625.58 436.45,625.24 437.38,624.89 438.32,624.55 439.25,624.20 440.18,623.85 441.11,623.49 442.05,623.14 442.98,622.78 443.91,622.42 444.85,622.06 445.78,621.70 446.71,621.34 447.65,620.98 448.58,620.62 449.51,620.25 450.44,619.89 451.38,619.53 452.31,619.18 453.24,618.82 454.18,618.47 455.11,618.11 456.04,617.76 456.97,617.41 457.91,617.07 458.84,616.73 459.77,616.39 460.71,616.06 461.64,615.73 462.57,615.40 463.51,615.08 464.44,614.76 465.37,614.44 466.30,614.14 467.24,613.83 468.17,613.53 469.10,613.24 470.04,612.95 470.97,612.67 471.90,612.39 472.83,612.12 473.77,611.85 474.70,611.59 475.63,611.33 476.57,611.08 477.50,610.84 478.43,610.60 479.37,610.37 480.30,610.14 481.23,609.92 482.16,609.70 483.10,609.49 484.03,609.29 484.96,609.09 485.90,608.90 486.83,608.71 487.76,608.52 488.69,608.35 489.63,608.17 490.56,608.00 491.49,607.84 492.43,607.68 493.36,607.53 494.29,607.38 495.23,607.24 496.16,607.10 497.09,606.96 498.02,606.83 498.96,606.71 499.89,606.58 500.82,606.46 501.76,606.35 502.69,606.24 503.62,606.13" fill="none" stroke="#1c4a7d" stroke-width="1.1"/>
<path d="M354.34,634.90 L358.24,638.80 L354.34,642.70 L350.44,638.80Z" fill="#1c4a7d"/>
<path d="M391.66,632.48 L395.56,636.38 L391.66,640.28 L387.76,636.38Z" fill="#1c4a7d"/>
<path d="M429.00,630.54 L432.90,634.44 L429.00,638.34 L425.10,634.44Z" fill="#1c4a7d"/>
<path d="M466.31,612.75 L470.21,616.65 L466.31,620.55 L462.41,616.65Z" fill="#1c4a7d"/>
<path d="M503.62,614.20 L507.52,618.10 L503.62,622.00 L499.72,618.10Z" fill="#1c4a7d"/>
<path d="M354.34,641.39 L358.14,634.74 L350.54,634.74Z" fill="#4f1c6b"/>
<line x1="391.66" y1="618.22" x2="391.66" y2="627.90" stroke="#4f1c6b" stroke-width="1"/>
<line x1="387.86" y1="618.22" x2="395.46" y2="618.22" stroke="#4f1c6b" stroke-width="1"/>
<line x1="387.86" y1="627.90" x2="395.46" y2="627.90" stroke="#4f1c6b" stroke-width="1"/>
<path d="M391.66,626.86 L395.46,620.21 L387.86,620.21Z" fill="#4f1c6b"/>
<line x1="429.00" y1="597.03" x2="429.00" y2="605.51" stroke="#4f1c6b" stroke-width="1"/>
<line x1="425.20" y1="597.03" x2="432.80" y2="597.03" stroke="#4f1c6b" stroke-width="1"/>
<line x1="425.20" y1="605.51" x2="432.80" y2="605.51" stroke="#4f1c6b" stroke-width="1"/>
<path d="M429.00,605.07 L432.80,598.42 L425.20,598.42Z" fill="#4f1c6b"/>
<line x1="466.31" y1="550.55" x2="466.31" y2="579.60" stroke="#4f1c6b" stroke-width="1"/>
<line x1="462.51" y1="550.55" x2="470.11" y2="550.55" stroke="#4f1c6b" stroke-width="1"/>
<line x1="462.51" y1="579.60" x2="470.11" y2="579.60" stroke="#4f1c6b" stroke-width="1"/>
<path d="M466.31,568.87 L470.11,562.22 L462.51,562.22Z" fill="#4f1c6b"/>
<line x1="503.62" y1="546.07" x2="503.62" y2="565.44" stroke="#4f1c6b" stroke-width="1"/>
<line x1="499.82" y1="546.07" x2="507.42" y2="546.07" stroke="#4f1c6b" stroke-width="1"/>
<line x1="499.82" y1="565.44" x2="507.42" y2="565.44" stroke="#4f1c6b" stroke-width="1"/>
<path d="M503.62,559.55 L507.42,552.90 L499.82,552.90Z" fill="#4f1c6b"/>
<path d="M354.34,632.58 L358.14,639.23 L350.54,639.23Z" fill="#f4a11f"/>
<path d="M391.66,605.95 L395.46,612.60 L387.86,612.60Z" fill="#f4a11f"/>
<line x1="429.00" y1="570.16" x2="429.00" y2="581.54" stroke="#f4a11f" stroke-width="1"/>
<line x1="425.20" y1="570.16" x2="432.80" y2="570.16" stroke="#f4a11f" stroke-width="1"/>
<line x1="425.20" y1="581.54" x2="432.80" y2="581.54" stroke="#f4a11f" stroke-width="1"/>
<path d="M429.00,572.05 L432.80,578.70 L425.20,578.70Z" fill="#f4a11f"/>
<line x1="466.31" y1="517.01" x2="466.31" y2="536.38" stroke="#f4a11f" stroke-width="1"/>
<line x1="462.51" y1="517.01" x2="470.11" y2="517.01" stroke="#f4a11f" stroke-width="1"/>
<line x1="462.51" y1="536.38" x2="470.11" y2="536.38" stroke="#f4a11f" stroke-width="1"/>
<path d="M466.31,522.90 L470.11,529.55 L462.51,529.55Z" fill="#f4a11f"/>
<line x1="503.62" y1="502.61" x2="503.62" y2="529.24" stroke="#f4a11f" stroke-width="1"/>
<line x1="499.82" y1="502.61" x2="507.42" y2="502.61" stroke="#f4a11f" stroke-width="1"/>
<line x1="499.82" y1="529.24" x2="507.42" y2="529.24" stroke="#f4a11f" stroke-width="1"/>
<path d="M503.62,512.12 L507.42,518.77 L499.82,518.77Z" fill="#f4a11f"/>
<rect x="313.53" y="635.30" width="7.00" height="7.00" fill="#3dab3a"/>
<rect x="350.84" y="632.88" width="7.00" height="7.00" fill="#3dab3a"/>
<rect x="388.16" y="603.58" width="7.00" height="7.00" fill="#3dab3a"/>
<line x1="429.00" y1="563.02" x2="429.00" y2="570.28" stroke="#3dab3a" stroke-width="1"/>
<line x1="425.20" y1="563.02" x2="432.80" y2="563.02" stroke="#3dab3a" stroke-width="1"/>
<line x1="425.20" y1="570.28" x2="432.80" y2="570.28" stroke="#3dab3a" stroke-width="1"/>
<rect x="425.50" y="563.15" width="7.00" height="7.00" fill="#3dab3a"/>
<line x1="466.31" y1="494.74" x2="466.31" y2="514.11" stroke="#3dab3a" stroke-width="1"/>
<line x1="462.51" y1="494.74" x2="470.11" y2="494.74" stroke="#3dab3a" stroke-width="1"/>
<line x1="462.51" y1="514.11" x2="470.11" y2="514.11" stroke="#3dab3a" stroke-width="1"/>
<rect x="462.81" y="500.92" width="7.00" height="7.00" fill="#3dab3a"/>
<line x1="503.62" y1="477.79" x2="503.62" y2="502.00" stroke="#3dab3a" stroke-width="1"/>
<line x1="499.82" y1="477.79" x2="507.42" y2="477.79" stroke="#3dab3a" stroke-width="1"/>
<line x1="499.82" y1="502.00" x2="507.42" y2="502.00" stroke="#3dab3a" stroke-width="1"/>
<rect x="500.12" y="486.40" width="7.00" height="7.00" fill="#3dab3a"/>
<circle cx="354.34" cy="636.62" r="3.80" fill="#c8102e"/>
<circle cx="391.66" cy="602.97" r="3.80" fill="#c8102e"/>
<line x1="429.00" y1="552.97" x2="429.00" y2="565.07" stroke="#c8102e" stroke-width="1"/>
<line x1="425.20" y1="552.97" x2="432.80" y2="552.97" stroke="#c8102e" stroke-width="1"/>
<line x1="425.20" y1="565.07" x2="432.80" y2="565.07" stroke="#c8102e" stroke-width="1"/>
<circle cx="429.00" cy="559.02" r="3.80" fill="#c8102e"/>
<line x1="466.31" y1="503.21" x2="466.31" y2="512.90" stroke="#c8102e" stroke-width="1"/>
<line x1="462.51" y1="503.21" x2="470.11" y2="503.21" stroke="#c8102e" stroke-width="1"/>
<line x1="462.51" y1="512.90" x2="470.11" y2="512.90" stroke="#c8102e" stroke-width="1"/>
<circle cx="466.31" cy="508.06" r="3.80" fill="#c8102e"/>
<line x1="503.62" y1="490.86" x2="503.62" y2="507.81" stroke="#c8102e" stroke-width="1"/>
<line x1="499.82" y1="490.86" x2="507.42" y2="490.86" stroke="#c8102e" stroke-width="1"/>
<line x1="499.82" y1="507.81" x2="507.42" y2="507.81" stroke="#c8102e" stroke-width="1"/>
<circle cx="503.62" cy="499.34" r="3.80" fill="#c8102e"/>
<rect x="313.53" y="634.09" width="7.00" height="7.00" fill="#3dab3a"/>
<text x="317.9" y="453.8" font-size="8.2" text-anchor="start" fill="#333333" font-weight="normal" textLength="27.7" lengthAdjust="spacingAndGlyphs" >MDTCS</text>
<line x1="317.90" y1="454.90" x2="345.60" y2="454.90" stroke="#333333" stroke-width="0.7"/>
<line x1="316.90" y1="463.40" x2="327.90" y2="463.40" stroke="#c8102e" stroke-width="1.1"/>
<circle cx="322.40" cy="463.40" r="3.61" fill="#c8102e"/>
<text x="330.7" y="466.09999999999997" font-size="8.2" text-anchor="start" fill="#333333" font-weight="normal" textLength="35.6" lengthAdjust="spacingAndGlyphs" stroke="#333333" stroke-width="0.15" >[scFv4-20]</text>
<text x="369.3" y="466.09999999999997" font-size="8.2" text-anchor="start" fill="#333333" font-weight="normal" textLength="19.200000000000003" lengthAdjust="spacingAndGlyphs" stroke="#333333" stroke-width="0.15" >0 nM</text>
<line x1="316.90" y1="475.40" x2="327.90" y2="475.40" stroke="#3dab3a" stroke-width="1.1"/>
<rect x="319.07" y="472.07" width="6.65" height="6.65" fill="#3dab3a"/>
<text x="330.7" y="478.09999999999997" font-size="8.2" text-anchor="start" fill="#333333" font-weight="normal" textLength="35.6" lengthAdjust="spacingAndGlyphs" stroke="#333333" stroke-width="0.15" >[scFv4-20]</text>
<text x="369.3" y="478.09999999999997" font-size="8.2" text-anchor="start" fill="#333333" font-weight="normal" textLength="25.9" lengthAdjust="spacingAndGlyphs" stroke="#333333" stroke-width="0.15" >1.1 nM</text>
<line x1="316.90" y1="487.40" x2="327.90" y2="487.40" stroke="#f4a11f" stroke-width="1.1"/>
<path d="M322.40,483.79 L326.01,490.11 L318.79,490.11Z" fill="#f4a11f"/>
<text x="330.7" y="490.09999999999997" font-size="8.2" text-anchor="start" fill="#333333" font-weight="normal" textLength="35.6" lengthAdjust="spacingAndGlyphs" stroke="#333333" stroke-width="0.15" >[scFv4-20]</text>
<text x="369.3" y="490.09999999999997" font-size="8.2" text-anchor="start" fill="#333333" font-weight="normal" textLength="25.9" lengthAdjust="spacingAndGlyphs" stroke="#333333" stroke-width="0.15" >3.3 nM</text>
<line x1="316.90" y1="499.40" x2="327.90" y2="499.40" stroke="#4f1c6b" stroke-width="1.1"/>
<path d="M322.40,503.01 L326.01,496.69 L318.79,496.69Z" fill="#4f1c6b"/>
<text x="330.7" y="502.09999999999997" font-size="8.2" text-anchor="start" fill="#333333" font-weight="normal" textLength="35.6" lengthAdjust="spacingAndGlyphs" stroke="#333333" stroke-width="0.15" >[scFv4-20]</text>
<text x="369.3" y="502.09999999999997" font-size="8.2" text-anchor="start" fill="#333333" font-weight="normal" textLength="23.0" lengthAdjust="spacingAndGlyphs" stroke="#333333" stroke-width="0.15" >10 nM</text>
<line x1="316.90" y1="511.40" x2="327.90" y2="511.40" stroke="#1c4a7d" stroke-width="1.1"/>
<path d="M322.40,507.69 L326.10,511.40 L322.40,515.11 L318.69,511.40Z" fill="#1c4a7d"/>
<text x="330.7" y="514.1" font-size="8.2" text-anchor="start" fill="#333333" font-weight="normal" textLength="35.6" lengthAdjust="spacingAndGlyphs" stroke="#333333" stroke-width="0.15" >[scFv4-20]</text>
<text x="369.3" y="514.1" font-size="8.2" text-anchor="start" fill="#333333" font-weight="normal" textLength="23.6" lengthAdjust="spacingAndGlyphs" stroke="#333333" stroke-width="0.15" >30 nM</text>
<rect x="0.5" y="0.5" width="519" height="677" fill="none" stroke="#505050" stroke-width="1"/>
</svg></body></html>
